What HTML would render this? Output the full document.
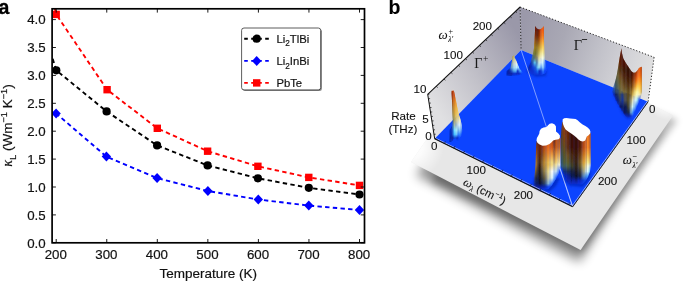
<!DOCTYPE html>
<html lang="en">
<head>
<meta charset="utf-8">
<title>Lattice thermal conductivity and scattering rates</title>
<style>
html,body{margin:0;padding:0;background:#fff;}
body{width:685px;height:281px;overflow:hidden;}
svg{display:block;}
svg text{stroke:#111;stroke-width:0.18px;}
#panel-b text{stroke-width:0.1px;}
svg text.lbl{stroke:#000;stroke-width:0.3px;}
</style>
</head>
<body>
<svg width="685" height="281" viewBox="0 0 685 281">
<defs>
<clipPath id="axclip"><rect x="52.1" y="8.8" width="312.4" height="234"/></clipPath>
<filter id="shadowblur" x="-20%" y="-20%" width="140%" height="140%"><feGaussianBlur stdDeviation="5.5"/></filter>
<filter id="shadowblur2" x="-20%" y="-20%" width="140%" height="140%"><feGaussianBlur stdDeviation="3.6"/></filter>
<filter id="b1" x="-30%" y="-30%" width="160%" height="160%"><feGaussianBlur stdDeviation="0.6"/></filter>
<filter id="b2" x="-30%" y="-30%" width="160%" height="160%"><feGaussianBlur stdDeviation="1.2"/></filter>
<filter id="b3" x="-50%" y="-50%" width="200%" height="200%"><feGaussianBlur stdDeviation="2.0"/></filter>
<linearGradient id="gwl" gradientUnits="userSpaceOnUse" x1="430" y1="100" x2="522" y2="40"><stop offset="0" stop-color="#e0e0e2"/><stop offset="0.45" stop-color="#c2c1c9"/><stop offset="1" stop-color="#9a98a9"/></linearGradient>
<linearGradient id="gwr" gradientUnits="userSpaceOnUse" x1="521" y1="30" x2="652" y2="80"><stop offset="0" stop-color="#9b99aa"/><stop offset="0.3" stop-color="#a9a8b4"/><stop offset="0.56" stop-color="#c0c0c8"/><stop offset="0.8" stop-color="#d4d4d8"/><stop offset="1" stop-color="#e2e2e2"/></linearGradient>
<radialGradient id="gfl" gradientUnits="userSpaceOnUse" cx="410" cy="146" r="34"><stop offset="0" stop-color="#fff" stop-opacity="1"/><stop offset="0.4" stop-color="#fff" stop-opacity="0.85"/><stop offset="1" stop-color="#fff" stop-opacity="0"/></radialGradient>
<radialGradient id="gfr" gradientUnits="userSpaceOnUse" cx="668" cy="96" r="24"><stop offset="0" stop-color="#fff" stop-opacity="1"/><stop offset="0.5" stop-color="#fff" stop-opacity="0.85"/><stop offset="1" stop-color="#fff" stop-opacity="0"/></radialGradient>
<clipPath id="cp_sp"><path d="M451.60,91.00 L452.75,89.80 L453.90,91.00 L454.40,93.00 L456.00,101.00 L457.40,108.00 L458.70,114.00 L460.70,120.00 L461.60,125.00 L462.20,130.00 L462.00,134.40 L460.50,137.00 L458.60,140.50 L456.80,140.50 L455.50,138.50 L453.60,139.00 L452.40,141.00 L450.60,141.00 L450.40,136.00 L451.00,131.00 L452.60,125.00 L452.80,120.00 L452.50,114.00 L452.30,108.00 L452.00,101.00 L451.50,93.00 Z"/></clipPath>
<linearGradient id="gsp0" gradientUnits="userSpaceOnUse" x1="0" y1="89.0" x2="0" y2="141.0"><stop offset="0.000" stop-color="#902301"/><stop offset="0.096" stop-color="#8a2000"/><stop offset="0.231" stop-color="#904010"/><stop offset="0.365" stop-color="#906020"/><stop offset="0.481" stop-color="#907830"/><stop offset="0.596" stop-color="#787848"/><stop offset="0.692" stop-color="#3464ae"/><stop offset="0.788" stop-color="#0a2cb2"/><stop offset="0.873" stop-color="#0828b0"/><stop offset="0.942" stop-color="#0820a0"/><stop offset="1.000" stop-color="#0a30d0"/></linearGradient>
<linearGradient id="gsp1" gradientUnits="userSpaceOnUse" x1="0" y1="89.0" x2="0" y2="141.0"><stop offset="0.000" stop-color="#9c2903"/><stop offset="0.096" stop-color="#8a2000"/><stop offset="0.231" stop-color="#904010"/><stop offset="0.365" stop-color="#906020"/><stop offset="0.481" stop-color="#907830"/><stop offset="0.596" stop-color="#787848"/><stop offset="0.692" stop-color="#3b6bab"/><stop offset="0.788" stop-color="#0f35b7"/><stop offset="0.873" stop-color="#0828b0"/><stop offset="0.942" stop-color="#0820a0"/><stop offset="1.000" stop-color="#0a30d0"/></linearGradient>
<linearGradient id="gsp2" gradientUnits="userSpaceOnUse" x1="0" y1="89.0" x2="0" y2="141.0"><stop offset="0.000" stop-color="#a83005"/><stop offset="0.096" stop-color="#8a2000"/><stop offset="0.231" stop-color="#904010"/><stop offset="0.365" stop-color="#906020"/><stop offset="0.481" stop-color="#907830"/><stop offset="0.596" stop-color="#787848"/><stop offset="0.692" stop-color="#4272a7"/><stop offset="0.788" stop-color="#133ebb"/><stop offset="0.873" stop-color="#0828b0"/><stop offset="0.942" stop-color="#0820a0"/><stop offset="1.000" stop-color="#0a30d0"/></linearGradient>
<linearGradient id="gsp3" gradientUnits="userSpaceOnUse" x1="0" y1="89.0" x2="0" y2="141.0"><stop offset="0.000" stop-color="#b43607"/><stop offset="0.096" stop-color="#9f2b04"/><stop offset="0.231" stop-color="#9a4610"/><stop offset="0.365" stop-color="#906020"/><stop offset="0.481" stop-color="#907830"/><stop offset="0.596" stop-color="#787848"/><stop offset="0.692" stop-color="#4878a4"/><stop offset="0.788" stop-color="#1847c0"/><stop offset="0.873" stop-color="#1244bf"/><stop offset="0.942" stop-color="#0820a0"/><stop offset="1.000" stop-color="#0a30d0"/></linearGradient>
<linearGradient id="gsp4" gradientUnits="userSpaceOnUse" x1="0" y1="89.0" x2="0" y2="141.0"><stop offset="0.000" stop-color="#b93908"/><stop offset="0.096" stop-color="#ba3a09"/><stop offset="0.231" stop-color="#b65810"/><stop offset="0.365" stop-color="#a77022"/><stop offset="0.481" stop-color="#9d8133"/><stop offset="0.596" stop-color="#7d7c4a"/><stop offset="0.692" stop-color="#4f7fa0"/><stop offset="0.788" stop-color="#367cd6"/><stop offset="0.873" stop-color="#2371d6"/><stop offset="0.942" stop-color="#0924a5"/><stop offset="1.000" stop-color="#0a31d2"/></linearGradient>
<linearGradient id="gsp5" gradientUnits="userSpaceOnUse" x1="0" y1="89.0" x2="0" y2="141.0"><stop offset="0.000" stop-color="#ba3a09"/><stop offset="0.096" stop-color="#c3430e"/><stop offset="0.231" stop-color="#d16910"/><stop offset="0.365" stop-color="#bf8125"/><stop offset="0.481" stop-color="#b29037"/><stop offset="0.596" stop-color="#938f56"/><stop offset="0.692" stop-color="#84a3a0"/><stop offset="0.788" stop-color="#57b4ed"/><stop offset="0.873" stop-color="#339ded"/><stop offset="0.942" stop-color="#0b34bb"/><stop offset="1.000" stop-color="#0b36dd"/></linearGradient>
<linearGradient id="gsp6" gradientUnits="userSpaceOnUse" x1="0" y1="89.0" x2="0" y2="141.0"><stop offset="0.000" stop-color="#bb3b09"/><stop offset="0.096" stop-color="#c84810"/><stop offset="0.231" stop-color="#db7617"/><stop offset="0.365" stop-color="#d79227"/><stop offset="0.481" stop-color="#c79e3b"/><stop offset="0.596" stop-color="#aaa161"/><stop offset="0.692" stop-color="#afbfa2"/><stop offset="0.788" stop-color="#76e2ff"/><stop offset="0.873" stop-color="#45c2ff"/><stop offset="0.942" stop-color="#0e45d2"/><stop offset="1.000" stop-color="#0b3ae8"/></linearGradient>
<linearGradient id="gsp7" gradientUnits="userSpaceOnUse" x1="0" y1="89.0" x2="0" y2="141.0"><stop offset="0.000" stop-color="#bc3c0a"/><stop offset="0.096" stop-color="#c84810"/><stop offset="0.231" stop-color="#e4831e"/><stop offset="0.365" stop-color="#e39f2d"/><stop offset="0.481" stop-color="#dcad3f"/><stop offset="0.596" stop-color="#c0b46c"/><stop offset="0.692" stop-color="#a9bdae"/><stop offset="0.788" stop-color="#92edff"/><stop offset="0.873" stop-color="#5bceff"/><stop offset="0.942" stop-color="#0f4cdd"/><stop offset="1.000" stop-color="#0b3ff3"/></linearGradient>
<linearGradient id="gsp8" gradientUnits="userSpaceOnUse" x1="0" y1="89.0" x2="0" y2="141.0"><stop offset="0.000" stop-color="#bd3d0a"/><stop offset="0.096" stop-color="#c84810"/><stop offset="0.231" stop-color="#e88820"/><stop offset="0.365" stop-color="#e8a935"/><stop offset="0.481" stop-color="#e4b749"/><stop offset="0.596" stop-color="#d6c777"/><stop offset="0.692" stop-color="#a4bab9"/><stop offset="0.788" stop-color="#aef8ff"/><stop offset="0.873" stop-color="#72d9ff"/><stop offset="0.942" stop-color="#0d40d3"/><stop offset="1.000" stop-color="#0c44fe"/></linearGradient>
<linearGradient id="gsp9" gradientUnits="userSpaceOnUse" x1="0" y1="89.0" x2="0" y2="141.0"><stop offset="0.000" stop-color="#be3e0b"/><stop offset="0.096" stop-color="#c84810"/><stop offset="0.231" stop-color="#e88820"/><stop offset="0.365" stop-color="#edb33c"/><stop offset="0.481" stop-color="#e8bf54"/><stop offset="0.596" stop-color="#ded086"/><stop offset="0.692" stop-color="#a8bfc6"/><stop offset="0.788" stop-color="#b8f7fb"/><stop offset="0.873" stop-color="#76d4ff"/><stop offset="0.942" stop-color="#0b35ca"/><stop offset="1.000" stop-color="#0c44ff"/></linearGradient>
<linearGradient id="gsp10" gradientUnits="userSpaceOnUse" x1="0" y1="89.0" x2="0" y2="141.0"><stop offset="0.000" stop-color="#bf3f0b"/><stop offset="0.096" stop-color="#c84810"/><stop offset="0.231" stop-color="#e88820"/><stop offset="0.365" stop-color="#f0b840"/><stop offset="0.481" stop-color="#edc75f"/><stop offset="0.596" stop-color="#e5d895"/><stop offset="0.692" stop-color="#bdd2d7"/><stop offset="0.788" stop-color="#a2e1f0"/><stop offset="0.873" stop-color="#5ab2ff"/><stop offset="0.942" stop-color="#0829c1"/><stop offset="1.000" stop-color="#0c44ff"/></linearGradient>
<linearGradient id="gsp11" gradientUnits="userSpaceOnUse" x1="0" y1="89.0" x2="0" y2="141.0"><stop offset="0.000" stop-color="#c0400c"/><stop offset="0.096" stop-color="#c84810"/><stop offset="0.231" stop-color="#e88820"/><stop offset="0.365" stop-color="#f0b840"/><stop offset="0.481" stop-color="#f2d06a"/><stop offset="0.596" stop-color="#ebe0a3"/><stop offset="0.692" stop-color="#d3e5e8"/><stop offset="0.788" stop-color="#8bcbe5"/><stop offset="0.873" stop-color="#3e91ff"/><stop offset="0.942" stop-color="#0931d3"/><stop offset="1.000" stop-color="#0c44ff"/></linearGradient>
<linearGradient id="gsp12" gradientUnits="userSpaceOnUse" x1="0" y1="89.0" x2="0" y2="141.0"><stop offset="0.000" stop-color="#c1410c"/><stop offset="0.096" stop-color="#c84810"/><stop offset="0.231" stop-color="#e88820"/><stop offset="0.365" stop-color="#f0b840"/><stop offset="0.481" stop-color="#f4d470"/><stop offset="0.596" stop-color="#f2e8b2"/><stop offset="0.692" stop-color="#e8f8f9"/><stop offset="0.788" stop-color="#86c4e5"/><stop offset="0.873" stop-color="#3383ff"/><stop offset="0.942" stop-color="#0b3ae8"/><stop offset="1.000" stop-color="#0c44ff"/></linearGradient>
<linearGradient id="gsp13" gradientUnits="userSpaceOnUse" x1="0" y1="89.0" x2="0" y2="141.0"><stop offset="0.000" stop-color="#c2420d"/><stop offset="0.096" stop-color="#c84810"/><stop offset="0.231" stop-color="#e88820"/><stop offset="0.365" stop-color="#f0b840"/><stop offset="0.481" stop-color="#f4d470"/><stop offset="0.596" stop-color="#f8f0c0"/><stop offset="0.692" stop-color="#e7f9fc"/><stop offset="0.788" stop-color="#91cdf0"/><stop offset="0.873" stop-color="#3888ff"/><stop offset="0.942" stop-color="#0c43fd"/><stop offset="1.000" stop-color="#0c44ff"/></linearGradient>
<linearGradient id="gsp14" gradientUnits="userSpaceOnUse" x1="0" y1="89.0" x2="0" y2="141.0"><stop offset="0.000" stop-color="#c3430d"/><stop offset="0.096" stop-color="#c84810"/><stop offset="0.231" stop-color="#e88820"/><stop offset="0.365" stop-color="#f0b840"/><stop offset="0.481" stop-color="#f4d470"/><stop offset="0.596" stop-color="#f8f0c0"/><stop offset="0.692" stop-color="#d9f0f8"/><stop offset="0.788" stop-color="#9cd5fb"/><stop offset="0.873" stop-color="#3e8eff"/><stop offset="0.942" stop-color="#0c44ff"/><stop offset="1.000" stop-color="#0c44ff"/></linearGradient>
<linearGradient id="gsp15" gradientUnits="userSpaceOnUse" x1="0" y1="89.0" x2="0" y2="141.0"><stop offset="0.000" stop-color="#c4440e"/><stop offset="0.096" stop-color="#c84810"/><stop offset="0.231" stop-color="#e88820"/><stop offset="0.365" stop-color="#f0b840"/><stop offset="0.481" stop-color="#f4d470"/><stop offset="0.596" stop-color="#f8f0c0"/><stop offset="0.692" stop-color="#cbe7f3"/><stop offset="0.788" stop-color="#85bffb"/><stop offset="0.873" stop-color="#317bff"/><stop offset="0.942" stop-color="#0c44ff"/><stop offset="1.000" stop-color="#0c44ff"/></linearGradient>
<linearGradient id="gsp16" gradientUnits="userSpaceOnUse" x1="0" y1="89.0" x2="0" y2="141.0"><stop offset="0.000" stop-color="#c5450e"/><stop offset="0.096" stop-color="#c84810"/><stop offset="0.231" stop-color="#e88820"/><stop offset="0.365" stop-color="#f0b840"/><stop offset="0.481" stop-color="#f4d470"/><stop offset="0.596" stop-color="#f8f0c0"/><stop offset="0.692" stop-color="#bedff0"/><stop offset="0.788" stop-color="#5b99f4"/><stop offset="0.873" stop-color="#1b59ff"/><stop offset="0.942" stop-color="#0c44ff"/><stop offset="1.000" stop-color="#0c44ff"/></linearGradient>
<linearGradient id="gsp17" gradientUnits="userSpaceOnUse" x1="0" y1="89.0" x2="0" y2="141.0"><stop offset="0.000" stop-color="#c6460f"/><stop offset="0.096" stop-color="#c84810"/><stop offset="0.231" stop-color="#e88820"/><stop offset="0.365" stop-color="#f0b840"/><stop offset="0.481" stop-color="#f4d470"/><stop offset="0.596" stop-color="#f8f0c0"/><stop offset="0.692" stop-color="#b6d8f0"/><stop offset="0.788" stop-color="#3a79f2"/><stop offset="0.873" stop-color="#0c44ff"/><stop offset="0.942" stop-color="#0c44ff"/><stop offset="1.000" stop-color="#0c44ff"/></linearGradient>
<linearGradient id="gsp18" gradientUnits="userSpaceOnUse" x1="0" y1="89.0" x2="0" y2="141.0"><stop offset="0.000" stop-color="#c6460f"/><stop offset="0.096" stop-color="#c84810"/><stop offset="0.231" stop-color="#e88820"/><stop offset="0.365" stop-color="#f0b840"/><stop offset="0.481" stop-color="#f4d470"/><stop offset="0.596" stop-color="#f8f0c0"/><stop offset="0.692" stop-color="#b1d5f0"/><stop offset="0.788" stop-color="#306ef5"/><stop offset="0.873" stop-color="#0c44ff"/><stop offset="0.942" stop-color="#0c44ff"/><stop offset="1.000" stop-color="#0c44ff"/></linearGradient>
<clipPath id="cp_sm"><path d="M512.60,56.40 L513.30,55.30 L514.10,56.40 L514.70,57.60 L516.50,61.30 L518.40,65.90 L519.70,69.10 L521.20,70.40 L522.60,72.80 L521.60,74.60 L518.00,75.60 L512.00,75.60 L508.00,75.00 L507.40,72.00 L508.60,70.40 L509.60,69.60 L511.00,65.90 L511.90,61.30 L512.30,57.60 Z"/></clipPath>
<linearGradient id="gsm0" gradientUnits="userSpaceOnUse" x1="0" y1="54.5" x2="0" y2="76.0"><stop offset="0.000" stop-color="#b0a040"/><stop offset="0.098" stop-color="#b0a040"/><stop offset="0.270" stop-color="#a0a060"/><stop offset="0.442" stop-color="#7898a0"/><stop offset="0.614" stop-color="#0c2eb2"/><stop offset="0.767" stop-color="#0820a7"/><stop offset="0.893" stop-color="#0820a7"/><stop offset="1.000" stop-color="#0a30d0"/></linearGradient>
<linearGradient id="gsm1" gradientUnits="userSpaceOnUse" x1="0" y1="54.5" x2="0" y2="76.0"><stop offset="0.000" stop-color="#b0a040"/><stop offset="0.098" stop-color="#b0a040"/><stop offset="0.270" stop-color="#a0a060"/><stop offset="0.442" stop-color="#7898a0"/><stop offset="0.614" stop-color="#153ab5"/><stop offset="0.767" stop-color="#0820a4"/><stop offset="0.893" stop-color="#0820a6"/><stop offset="1.000" stop-color="#0a30d0"/></linearGradient>
<linearGradient id="gsm2" gradientUnits="userSpaceOnUse" x1="0" y1="54.5" x2="0" y2="76.0"><stop offset="0.000" stop-color="#b0a040"/><stop offset="0.098" stop-color="#b0a040"/><stop offset="0.270" stop-color="#a0a060"/><stop offset="0.442" stop-color="#7898a0"/><stop offset="0.614" stop-color="#1e47b9"/><stop offset="0.767" stop-color="#0820a1"/><stop offset="0.893" stop-color="#0820a5"/><stop offset="1.000" stop-color="#0a30d0"/></linearGradient>
<linearGradient id="gsm3" gradientUnits="userSpaceOnUse" x1="0" y1="54.5" x2="0" y2="76.0"><stop offset="0.000" stop-color="#b0a040"/><stop offset="0.098" stop-color="#b0a040"/><stop offset="0.270" stop-color="#a0a060"/><stop offset="0.442" stop-color="#7898a0"/><stop offset="0.614" stop-color="#2753bc"/><stop offset="0.767" stop-color="#0a26a5"/><stop offset="0.893" stop-color="#0820a4"/><stop offset="1.000" stop-color="#0a30d0"/></linearGradient>
<linearGradient id="gsm4" gradientUnits="userSpaceOnUse" x1="0" y1="54.5" x2="0" y2="76.0"><stop offset="0.000" stop-color="#b0a040"/><stop offset="0.098" stop-color="#b0a040"/><stop offset="0.270" stop-color="#a0a060"/><stop offset="0.442" stop-color="#7898a0"/><stop offset="0.614" stop-color="#2f5fc0"/><stop offset="0.767" stop-color="#0f32af"/><stop offset="0.893" stop-color="#0820a3"/><stop offset="1.000" stop-color="#0a30d0"/></linearGradient>
<linearGradient id="gsm5" gradientUnits="userSpaceOnUse" x1="0" y1="54.5" x2="0" y2="76.0"><stop offset="0.000" stop-color="#b0a040"/><stop offset="0.098" stop-color="#b0a040"/><stop offset="0.270" stop-color="#a0a060"/><stop offset="0.442" stop-color="#7898a0"/><stop offset="0.614" stop-color="#4878c0"/><stop offset="0.767" stop-color="#143eb8"/><stop offset="0.893" stop-color="#0820a2"/><stop offset="1.000" stop-color="#0a30d0"/></linearGradient>
<linearGradient id="gsm6" gradientUnits="userSpaceOnUse" x1="0" y1="54.5" x2="0" y2="76.0"><stop offset="0.000" stop-color="#b0a040"/><stop offset="0.098" stop-color="#b0a040"/><stop offset="0.270" stop-color="#a0a060"/><stop offset="0.442" stop-color="#7e9ca3"/><stop offset="0.614" stop-color="#6393c0"/><stop offset="0.767" stop-color="#1c4ec2"/><stop offset="0.893" stop-color="#0820a1"/><stop offset="1.000" stop-color="#0a30d0"/></linearGradient>
<linearGradient id="gsm7" gradientUnits="userSpaceOnUse" x1="0" y1="54.5" x2="0" y2="76.0"><stop offset="0.000" stop-color="#b0a040"/><stop offset="0.098" stop-color="#b0a040"/><stop offset="0.270" stop-color="#a8a767"/><stop offset="0.442" stop-color="#98b1ae"/><stop offset="0.614" stop-color="#7aaac7"/><stop offset="0.767" stop-color="#2d69cc"/><stop offset="0.893" stop-color="#0822a5"/><stop offset="1.000" stop-color="#0a30d0"/></linearGradient>
<linearGradient id="gsm8" gradientUnits="userSpaceOnUse" x1="0" y1="54.5" x2="0" y2="76.0"><stop offset="0.000" stop-color="#b3a343"/><stop offset="0.098" stop-color="#b3a343"/><stop offset="0.270" stop-color="#bfbb7b"/><stop offset="0.442" stop-color="#b3c6ba"/><stop offset="0.614" stop-color="#8dbdd6"/><stop offset="0.767" stop-color="#3e83d6"/><stop offset="0.893" stop-color="#0927b5"/><stop offset="1.000" stop-color="#0a30d0"/></linearGradient>
<linearGradient id="gsm9" gradientUnits="userSpaceOnUse" x1="0" y1="54.5" x2="0" y2="76.0"><stop offset="0.000" stop-color="#c3b353"/><stop offset="0.098" stop-color="#c3b353"/><stop offset="0.270" stop-color="#d6cf8f"/><stop offset="0.442" stop-color="#c6d5c5"/><stop offset="0.614" stop-color="#a1d1e5"/><stop offset="0.767" stop-color="#4f9edf"/><stop offset="0.893" stop-color="#092cc4"/><stop offset="1.000" stop-color="#0a33d6"/></linearGradient>
<linearGradient id="gsm10" gradientUnits="userSpaceOnUse" x1="0" y1="54.5" x2="0" y2="76.0"><stop offset="0.000" stop-color="#d0c060"/><stop offset="0.098" stop-color="#d0c060"/><stop offset="0.270" stop-color="#e0d89b"/><stop offset="0.442" stop-color="#d2dfcf"/><stop offset="0.614" stop-color="#b1e1f1"/><stop offset="0.767" stop-color="#55abe9"/><stop offset="0.893" stop-color="#0a2fcf"/><stop offset="1.000" stop-color="#0b35dd"/></linearGradient>
<linearGradient id="gsm11" gradientUnits="userSpaceOnUse" x1="0" y1="54.5" x2="0" y2="76.0"><stop offset="0.000" stop-color="#d0c060"/><stop offset="0.098" stop-color="#d0c060"/><stop offset="0.270" stop-color="#e9e1a7"/><stop offset="0.442" stop-color="#dee8d8"/><stop offset="0.614" stop-color="#b6e6f6"/><stop offset="0.767" stop-color="#59b7f2"/><stop offset="0.893" stop-color="#092dca"/><stop offset="1.000" stop-color="#0b38e3"/></linearGradient>
<linearGradient id="gsm12" gradientUnits="userSpaceOnUse" x1="0" y1="54.5" x2="0" y2="76.0"><stop offset="0.000" stop-color="#d0c060"/><stop offset="0.098" stop-color="#d0c060"/><stop offset="0.270" stop-color="#f0e8b0"/><stop offset="0.442" stop-color="#e9f1e1"/><stop offset="0.614" stop-color="#bbebfa"/><stop offset="0.767" stop-color="#5ec4fc"/><stop offset="0.893" stop-color="#092bc5"/><stop offset="1.000" stop-color="#0b3bea"/></linearGradient>
<linearGradient id="gsm13" gradientUnits="userSpaceOnUse" x1="0" y1="54.5" x2="0" y2="76.0"><stop offset="0.000" stop-color="#d0c060"/><stop offset="0.098" stop-color="#d0c060"/><stop offset="0.270" stop-color="#f0e8b0"/><stop offset="0.442" stop-color="#ecf4e8"/><stop offset="0.614" stop-color="#c0f0ff"/><stop offset="0.767" stop-color="#4ba2f0"/><stop offset="0.893" stop-color="#0828c0"/><stop offset="1.000" stop-color="#0b3ef0"/></linearGradient>
<linearGradient id="gsm14" gradientUnits="userSpaceOnUse" x1="0" y1="54.5" x2="0" y2="76.0"><stop offset="0.000" stop-color="#d0c060"/><stop offset="0.098" stop-color="#d0c060"/><stop offset="0.270" stop-color="#f0e8b0"/><stop offset="0.442" stop-color="#eff7ee"/><stop offset="0.614" stop-color="#b7ebff"/><stop offset="0.767" stop-color="#2b67d9"/><stop offset="0.893" stop-color="#0828c0"/><stop offset="1.000" stop-color="#0c41f7"/></linearGradient>
<linearGradient id="gsm15" gradientUnits="userSpaceOnUse" x1="0" y1="54.5" x2="0" y2="76.0"><stop offset="0.000" stop-color="#d0c060"/><stop offset="0.098" stop-color="#d0c060"/><stop offset="0.270" stop-color="#f0e8b0"/><stop offset="0.442" stop-color="#f0f8f0"/><stop offset="0.614" stop-color="#ade7ff"/><stop offset="0.767" stop-color="#0a2cc2"/><stop offset="0.893" stop-color="#0828c0"/><stop offset="1.000" stop-color="#0c43fe"/></linearGradient>
<linearGradient id="gsm16" gradientUnits="userSpaceOnUse" x1="0" y1="54.5" x2="0" y2="76.0"><stop offset="0.000" stop-color="#d0c060"/><stop offset="0.098" stop-color="#d0c060"/><stop offset="0.270" stop-color="#f0e8b0"/><stop offset="0.442" stop-color="#f0f8f0"/><stop offset="0.614" stop-color="#a3e2ff"/><stop offset="0.767" stop-color="#1c4ed2"/><stop offset="0.893" stop-color="#0828c0"/><stop offset="1.000" stop-color="#0c44ff"/></linearGradient>
<linearGradient id="gsm17" gradientUnits="userSpaceOnUse" x1="0" y1="54.5" x2="0" y2="76.0"><stop offset="0.000" stop-color="#d0c060"/><stop offset="0.098" stop-color="#d0c060"/><stop offset="0.270" stop-color="#f0e8b0"/><stop offset="0.442" stop-color="#f0f8f0"/><stop offset="0.614" stop-color="#93d3ff"/><stop offset="0.767" stop-color="#3278e5"/><stop offset="0.893" stop-color="#0828c0"/><stop offset="1.000" stop-color="#0c44ff"/></linearGradient>
<linearGradient id="gsm18" gradientUnits="userSpaceOnUse" x1="0" y1="54.5" x2="0" y2="76.0"><stop offset="0.000" stop-color="#d0c060"/><stop offset="0.098" stop-color="#d0c060"/><stop offset="0.270" stop-color="#f0e8b0"/><stop offset="0.442" stop-color="#f0f8f0"/><stop offset="0.614" stop-color="#7fbfff"/><stop offset="0.767" stop-color="#48a1f8"/><stop offset="0.893" stop-color="#092ece"/><stop offset="1.000" stop-color="#0c44ff"/></linearGradient>
<linearGradient id="gsm19" gradientUnits="userSpaceOnUse" x1="0" y1="54.5" x2="0" y2="76.0"><stop offset="0.000" stop-color="#d0c060"/><stop offset="0.098" stop-color="#d0c060"/><stop offset="0.270" stop-color="#f0e8b0"/><stop offset="0.442" stop-color="#f0f8f0"/><stop offset="0.614" stop-color="#6aaaff"/><stop offset="0.767" stop-color="#44a0ff"/><stop offset="0.893" stop-color="#0a38e4"/><stop offset="1.000" stop-color="#0c44ff"/></linearGradient>
<linearGradient id="gsm20" gradientUnits="userSpaceOnUse" x1="0" y1="54.5" x2="0" y2="76.0"><stop offset="0.000" stop-color="#d0c060"/><stop offset="0.098" stop-color="#d0c060"/><stop offset="0.270" stop-color="#f0e8b0"/><stop offset="0.442" stop-color="#f0f8f0"/><stop offset="0.614" stop-color="#5695ff"/><stop offset="0.767" stop-color="#3187ff"/><stop offset="0.893" stop-color="#0c42fa"/><stop offset="1.000" stop-color="#0c44ff"/></linearGradient>
<linearGradient id="gsm21" gradientUnits="userSpaceOnUse" x1="0" y1="54.5" x2="0" y2="76.0"><stop offset="0.000" stop-color="#d0c060"/><stop offset="0.098" stop-color="#d0c060"/><stop offset="0.270" stop-color="#f0e8b0"/><stop offset="0.442" stop-color="#f0f8f0"/><stop offset="0.614" stop-color="#4380ff"/><stop offset="0.767" stop-color="#1f6fff"/><stop offset="0.893" stop-color="#0c44ff"/><stop offset="1.000" stop-color="#0c44ff"/></linearGradient>
<linearGradient id="gsm22" gradientUnits="userSpaceOnUse" x1="0" y1="54.5" x2="0" y2="76.0"><stop offset="0.000" stop-color="#d0c060"/><stop offset="0.098" stop-color="#d0c060"/><stop offset="0.270" stop-color="#f0e8b0"/><stop offset="0.442" stop-color="#f0f8f0"/><stop offset="0.614" stop-color="#2f6aff"/><stop offset="0.767" stop-color="#185fff"/><stop offset="0.893" stop-color="#0c44ff"/><stop offset="1.000" stop-color="#0c44ff"/></linearGradient>
<linearGradient id="gsm23" gradientUnits="userSpaceOnUse" x1="0" y1="54.5" x2="0" y2="76.0"><stop offset="0.000" stop-color="#d0c060"/><stop offset="0.098" stop-color="#d0c060"/><stop offset="0.270" stop-color="#f0e8b0"/><stop offset="0.442" stop-color="#f0f8f0"/><stop offset="0.614" stop-color="#225dff"/><stop offset="0.767" stop-color="#1456ff"/><stop offset="0.893" stop-color="#0c44ff"/><stop offset="1.000" stop-color="#0c44ff"/></linearGradient>
<clipPath id="cp_bp"><path d="M535.20,26.00 L536.60,28.20 L538.20,29.20 L539.60,29.40 L541.20,28.80 L542.80,27.40 L543.80,26.00 L544.00,40.00 L544.20,48.00 L544.50,53.00 L545.00,58.00 L545.40,63.00 L546.20,67.50 L546.60,71.00 L545.00,73.50 L541.00,75.00 L535.00,75.00 L530.50,73.50 L528.30,70.50 L528.50,67.00 L530.50,62.70 L531.80,58.00 L533.00,53.40 L534.00,48.00 L534.50,40.50 L535.00,31.30 Z"/></clipPath>
<linearGradient id="gbp0" gradientUnits="userSpaceOnUse" x1="0" y1="25.0" x2="0" y2="75.0"><stop offset="0.000" stop-color="#671400"/><stop offset="0.106" stop-color="#6e1800"/><stop offset="0.218" stop-color="#882f08"/><stop offset="0.328" stop-color="#9e5f10"/><stop offset="0.450" stop-color="#a68620"/><stop offset="0.568" stop-color="#7e863f"/><stop offset="0.660" stop-color="#3f6e9e"/><stop offset="0.754" stop-color="#0c44ff"/><stop offset="0.846" stop-color="#0b3dec"/><stop offset="0.920" stop-color="#0b40f6"/><stop offset="1.000" stop-color="#0c43fd"/></linearGradient>
<linearGradient id="gbp1" gradientUnits="userSpaceOnUse" x1="0" y1="25.0" x2="0" y2="75.0"><stop offset="0.000" stop-color="#6a1400"/><stop offset="0.106" stop-color="#721900"/><stop offset="0.218" stop-color="#8d3108"/><stop offset="0.328" stop-color="#a36210"/><stop offset="0.450" stop-color="#ac8b21"/><stop offset="0.568" stop-color="#838b41"/><stop offset="0.660" stop-color="#4172a3"/><stop offset="0.754" stop-color="#0c42fb"/><stop offset="0.846" stop-color="#0a2ec6"/><stop offset="0.920" stop-color="#0a38e3"/><stop offset="1.000" stop-color="#0c40f8"/></linearGradient>
<linearGradient id="gbp2" gradientUnits="userSpaceOnUse" x1="0" y1="25.0" x2="0" y2="75.0"><stop offset="0.000" stop-color="#6b1500"/><stop offset="0.106" stop-color="#731900"/><stop offset="0.218" stop-color="#8e3108"/><stop offset="0.328" stop-color="#a46310"/><stop offset="0.450" stop-color="#ad8c21"/><stop offset="0.568" stop-color="#838c42"/><stop offset="0.660" stop-color="#4273a4"/><stop offset="0.754" stop-color="#0b3ae9"/><stop offset="0.846" stop-color="#0821a4"/><stop offset="0.920" stop-color="#0830d0"/><stop offset="1.000" stop-color="#0b3ef3"/></linearGradient>
<linearGradient id="gbp3" gradientUnits="userSpaceOnUse" x1="0" y1="25.0" x2="0" y2="75.0"><stop offset="0.000" stop-color="#671400"/><stop offset="0.106" stop-color="#6f1800"/><stop offset="0.218" stop-color="#882f08"/><stop offset="0.328" stop-color="#9e5f10"/><stop offset="0.450" stop-color="#a68620"/><stop offset="0.568" stop-color="#7f863f"/><stop offset="0.660" stop-color="#3f6f9e"/><stop offset="0.754" stop-color="#0932d7"/><stop offset="0.846" stop-color="#0822a9"/><stop offset="0.920" stop-color="#0830d0"/><stop offset="1.000" stop-color="#0b3bee"/></linearGradient>
<linearGradient id="gbp4" gradientUnits="userSpaceOnUse" x1="0" y1="25.0" x2="0" y2="75.0"><stop offset="0.000" stop-color="#641300"/><stop offset="0.106" stop-color="#6c1700"/><stop offset="0.218" stop-color="#852e08"/><stop offset="0.328" stop-color="#9a5c0f"/><stop offset="0.450" stop-color="#a1831f"/><stop offset="0.568" stop-color="#7b833d"/><stop offset="0.660" stop-color="#426e95"/><stop offset="0.754" stop-color="#082ac5"/><stop offset="0.846" stop-color="#0826b6"/><stop offset="0.920" stop-color="#0830d0"/><stop offset="1.000" stop-color="#0b38e9"/></linearGradient>
<linearGradient id="gbp5" gradientUnits="userSpaceOnUse" x1="0" y1="25.0" x2="0" y2="75.0"><stop offset="0.000" stop-color="#621300"/><stop offset="0.106" stop-color="#6a1700"/><stop offset="0.218" stop-color="#822d08"/><stop offset="0.328" stop-color="#975a0f"/><stop offset="0.450" stop-color="#9e801e"/><stop offset="0.568" stop-color="#79803c"/><stop offset="0.660" stop-color="#466e8d"/><stop offset="0.754" stop-color="#153ab6"/><stop offset="0.846" stop-color="#0929c1"/><stop offset="0.920" stop-color="#0830d0"/><stop offset="1.000" stop-color="#0a36e4"/></linearGradient>
<linearGradient id="gbp6" gradientUnits="userSpaceOnUse" x1="0" y1="25.0" x2="0" y2="75.0"><stop offset="0.000" stop-color="#651300"/><stop offset="0.106" stop-color="#6d1700"/><stop offset="0.218" stop-color="#872f08"/><stop offset="0.328" stop-color="#9c5e10"/><stop offset="0.450" stop-color="#a4851f"/><stop offset="0.568" stop-color="#7d853e"/><stop offset="0.660" stop-color="#4e758c"/><stop offset="0.754" stop-color="#254fa4"/><stop offset="0.846" stop-color="#0e35cd"/><stop offset="0.920" stop-color="#0830d0"/><stop offset="1.000" stop-color="#0a34e0"/></linearGradient>
<linearGradient id="gbp7" gradientUnits="userSpaceOnUse" x1="0" y1="25.0" x2="0" y2="75.0"><stop offset="0.000" stop-color="#621300"/><stop offset="0.106" stop-color="#6a1700"/><stop offset="0.218" stop-color="#822d08"/><stop offset="0.328" stop-color="#975b0f"/><stop offset="0.450" stop-color="#9f801e"/><stop offset="0.568" stop-color="#79803c"/><stop offset="0.660" stop-color="#4e6f7b"/><stop offset="0.754" stop-color="#3369a3"/><stop offset="0.846" stop-color="#1440d8"/><stop offset="0.920" stop-color="#0830d0"/><stop offset="1.000" stop-color="#0a33de"/></linearGradient>
<linearGradient id="gbp8" gradientUnits="userSpaceOnUse" x1="0" y1="25.0" x2="0" y2="75.0"><stop offset="0.000" stop-color="#631300"/><stop offset="0.106" stop-color="#6b1700"/><stop offset="0.218" stop-color="#842e08"/><stop offset="0.328" stop-color="#995c0f"/><stop offset="0.450" stop-color="#a1821f"/><stop offset="0.568" stop-color="#757b37"/><stop offset="0.660" stop-color="#526d6f"/><stop offset="0.754" stop-color="#4796cd"/><stop offset="0.846" stop-color="#194adf"/><stop offset="0.920" stop-color="#0a38d6"/><stop offset="1.000" stop-color="#0a33dc"/></linearGradient>
<linearGradient id="gbp9" gradientUnits="userSpaceOnUse" x1="0" y1="25.0" x2="0" y2="75.0"><stop offset="0.000" stop-color="#651300"/><stop offset="0.106" stop-color="#711800"/><stop offset="0.218" stop-color="#8b3008"/><stop offset="0.328" stop-color="#a16010"/><stop offset="0.450" stop-color="#a3841e"/><stop offset="0.568" stop-color="#757933"/><stop offset="0.660" stop-color="#5b7268"/><stop offset="0.754" stop-color="#58bdee"/><stop offset="0.846" stop-color="#1b52d9"/><stop offset="0.920" stop-color="#0c3fdb"/><stop offset="1.000" stop-color="#0a33db"/></linearGradient>
<linearGradient id="gbp10" gradientUnits="userSpaceOnUse" x1="0" y1="25.0" x2="0" y2="75.0"><stop offset="0.000" stop-color="#601100"/><stop offset="0.106" stop-color="#701800"/><stop offset="0.218" stop-color="#862e07"/><stop offset="0.328" stop-color="#94560e"/><stop offset="0.450" stop-color="#977819"/><stop offset="0.568" stop-color="#6e6f2c"/><stop offset="0.660" stop-color="#6e7962"/><stop offset="0.754" stop-color="#5cbee9"/><stop offset="0.846" stop-color="#1e5bd3"/><stop offset="0.920" stop-color="#0e47e1"/><stop offset="1.000" stop-color="#0a32d9"/></linearGradient>
<linearGradient id="gbp11" gradientUnits="userSpaceOnUse" x1="0" y1="25.0" x2="0" y2="75.0"><stop offset="0.000" stop-color="#601100"/><stop offset="0.106" stop-color="#6b1500"/><stop offset="0.218" stop-color="#7b2604"/><stop offset="0.328" stop-color="#8b4d0b"/><stop offset="0.450" stop-color="#937316"/><stop offset="0.568" stop-color="#78762e"/><stop offset="0.660" stop-color="#878760"/><stop offset="0.754" stop-color="#559bc0"/><stop offset="0.846" stop-color="#3075d8"/><stop offset="0.920" stop-color="#104ee7"/><stop offset="1.000" stop-color="#0a32d7"/></linearGradient>
<linearGradient id="gbp12" gradientUnits="userSpaceOnUse" x1="0" y1="25.0" x2="0" y2="75.0"><stop offset="0.000" stop-color="#540e00"/><stop offset="0.106" stop-color="#591000"/><stop offset="0.218" stop-color="#611a01"/><stop offset="0.328" stop-color="#783f08"/><stop offset="0.450" stop-color="#8e7017"/><stop offset="0.568" stop-color="#857f35"/><stop offset="0.660" stop-color="#91895a"/><stop offset="0.754" stop-color="#58849f"/><stop offset="0.846" stop-color="#57a6e2"/><stop offset="0.920" stop-color="#1766f3"/><stop offset="1.000" stop-color="#0a31d5"/></linearGradient>
<linearGradient id="gbp13" gradientUnits="userSpaceOnUse" x1="0" y1="25.0" x2="0" y2="75.0"><stop offset="0.000" stop-color="#5b1000"/><stop offset="0.106" stop-color="#5f1200"/><stop offset="0.218" stop-color="#681d00"/><stop offset="0.328" stop-color="#83470b"/><stop offset="0.450" stop-color="#9a7a1d"/><stop offset="0.568" stop-color="#9c9240"/><stop offset="0.660" stop-color="#ada571"/><stop offset="0.754" stop-color="#84a9b8"/><stop offset="0.846" stop-color="#7bd5f2"/><stop offset="0.920" stop-color="#1f7bfc"/><stop offset="1.000" stop-color="#0a31d4"/></linearGradient>
<linearGradient id="gbp14" gradientUnits="userSpaceOnUse" x1="0" y1="25.0" x2="0" y2="75.0"><stop offset="0.000" stop-color="#6b1600"/><stop offset="0.106" stop-color="#701800"/><stop offset="0.218" stop-color="#7d2800"/><stop offset="0.328" stop-color="#914f0e"/><stop offset="0.450" stop-color="#a88623"/><stop offset="0.568" stop-color="#b5a64b"/><stop offset="0.660" stop-color="#cbc48a"/><stop offset="0.754" stop-color="#b2d1d3"/><stop offset="0.846" stop-color="#89daf4"/><stop offset="0.920" stop-color="#1556e1"/><stop offset="1.000" stop-color="#0a31d2"/></linearGradient>
<linearGradient id="gbp15" gradientUnits="userSpaceOnUse" x1="0" y1="25.0" x2="0" y2="75.0"><stop offset="0.000" stop-color="#862001"/><stop offset="0.106" stop-color="#8c2301"/><stop offset="0.218" stop-color="#9a3602"/><stop offset="0.328" stop-color="#a85f12"/><stop offset="0.450" stop-color="#bc982b"/><stop offset="0.568" stop-color="#cfbf62"/><stop offset="0.660" stop-color="#e8e1a5"/><stop offset="0.754" stop-color="#cdeaea"/><stop offset="0.846" stop-color="#9be5fc"/><stop offset="0.920" stop-color="#0b31c7"/><stop offset="1.000" stop-color="#0a30d0"/></linearGradient>
<linearGradient id="gbp16" gradientUnits="userSpaceOnUse" x1="0" y1="25.0" x2="0" y2="75.0"><stop offset="0.000" stop-color="#a43004"/><stop offset="0.106" stop-color="#ab3304"/><stop offset="0.218" stop-color="#b24609"/><stop offset="0.328" stop-color="#bd6f18"/><stop offset="0.450" stop-color="#c6a034"/><stop offset="0.568" stop-color="#dbcb74"/><stop offset="0.660" stop-color="#e5e1af"/><stop offset="0.754" stop-color="#d8efef"/><stop offset="0.846" stop-color="#85c7ef"/><stop offset="0.920" stop-color="#0b30cb"/><stop offset="1.000" stop-color="#0a33d6"/></linearGradient>
<linearGradient id="gbp17" gradientUnits="userSpaceOnUse" x1="0" y1="25.0" x2="0" y2="75.0"><stop offset="0.000" stop-color="#d74608"/><stop offset="0.106" stop-color="#df4a08"/><stop offset="0.218" stop-color="#df5f11"/><stop offset="0.328" stop-color="#e78c21"/><stop offset="0.450" stop-color="#e7bb42"/><stop offset="0.568" stop-color="#fff095"/><stop offset="0.660" stop-color="#fdfcce"/><stop offset="0.754" stop-color="#eaffff"/><stop offset="0.846" stop-color="#72b6fb"/><stop offset="0.920" stop-color="#0e3bd9"/><stop offset="1.000" stop-color="#0b36df"/></linearGradient>
<linearGradient id="gbp18" gradientUnits="userSpaceOnUse" x1="0" y1="25.0" x2="0" y2="75.0"><stop offset="0.000" stop-color="#df4e0a"/><stop offset="0.106" stop-color="#e5520a"/><stop offset="0.218" stop-color="#e56914"/><stop offset="0.328" stop-color="#eb9427"/><stop offset="0.450" stop-color="#f0c44b"/><stop offset="0.568" stop-color="#f8ea97"/><stop offset="0.660" stop-color="#f9fad5"/><stop offset="0.754" stop-color="#ddf9ff"/><stop offset="0.846" stop-color="#6fadf6"/><stop offset="0.920" stop-color="#174de7"/><stop offset="1.000" stop-color="#0b3ae7"/></linearGradient>
<linearGradient id="gbp19" gradientUnits="userSpaceOnUse" x1="0" y1="25.0" x2="0" y2="75.0"><stop offset="0.000" stop-color="#f75b0c"/><stop offset="0.106" stop-color="#fc5f0c"/><stop offset="0.218" stop-color="#fc7c18"/><stop offset="0.328" stop-color="#ffa731"/><stop offset="0.450" stop-color="#ffd55a"/><stop offset="0.568" stop-color="#fff6a4"/><stop offset="0.660" stop-color="#ffffe5"/><stop offset="0.754" stop-color="#dfffff"/><stop offset="0.846" stop-color="#91cfff"/><stop offset="0.920" stop-color="#2468f4"/><stop offset="1.000" stop-color="#0b3ef0"/></linearGradient>
<linearGradient id="gbp20" gradientUnits="userSpaceOnUse" x1="0" y1="25.0" x2="0" y2="75.0"><stop offset="0.000" stop-color="#e3540b"/><stop offset="0.106" stop-color="#e05309"/><stop offset="0.218" stop-color="#e57017"/><stop offset="0.328" stop-color="#ec9c2f"/><stop offset="0.450" stop-color="#f2cb5d"/><stop offset="0.568" stop-color="#e7df9a"/><stop offset="0.660" stop-color="#ebf2d8"/><stop offset="0.754" stop-color="#b2d6f4"/><stop offset="0.846" stop-color="#96cdf8"/><stop offset="0.920" stop-color="#2e7cff"/><stop offset="1.000" stop-color="#0c41f9"/></linearGradient>
<linearGradient id="gbp21" gradientUnits="userSpaceOnUse" x1="0" y1="25.0" x2="0" y2="75.0"><stop offset="0.000" stop-color="#f2570b"/><stop offset="0.106" stop-color="#ec5408"/><stop offset="0.218" stop-color="#f57619"/><stop offset="0.328" stop-color="#fda933"/><stop offset="0.450" stop-color="#fdd35d"/><stop offset="0.568" stop-color="#e4db98"/><stop offset="0.660" stop-color="#dfebe5"/><stop offset="0.754" stop-color="#9dcbff"/><stop offset="0.846" stop-color="#6eadff"/><stop offset="0.920" stop-color="#1d60ff"/><stop offset="1.000" stop-color="#0c44ff"/></linearGradient>
<linearGradient id="gbp22" gradientUnits="userSpaceOnUse" x1="0" y1="25.0" x2="0" y2="75.0"><stop offset="0.000" stop-color="#dc4e09"/><stop offset="0.106" stop-color="#db4e08"/><stop offset="0.218" stop-color="#e36e18"/><stop offset="0.328" stop-color="#eb9d2f"/><stop offset="0.450" stop-color="#ebc456"/><stop offset="0.568" stop-color="#d4cc8d"/><stop offset="0.660" stop-color="#aabacc"/><stop offset="0.754" stop-color="#709feb"/><stop offset="0.846" stop-color="#3676ff"/><stop offset="0.920" stop-color="#0c44ff"/><stop offset="1.000" stop-color="#0c44ff"/></linearGradient>
<linearGradient id="gbp23" gradientUnits="userSpaceOnUse" x1="0" y1="25.0" x2="0" y2="75.0"><stop offset="0.000" stop-color="#e44f09"/><stop offset="0.106" stop-color="#e85308"/><stop offset="0.218" stop-color="#f07419"/><stop offset="0.328" stop-color="#f8a532"/><stop offset="0.450" stop-color="#f8cf5b"/><stop offset="0.568" stop-color="#dfd795"/><stop offset="0.660" stop-color="#acbcd7"/><stop offset="0.754" stop-color="#4f7ff0"/><stop offset="0.846" stop-color="#2360ff"/><stop offset="0.920" stop-color="#0c44ff"/><stop offset="1.000" stop-color="#0c44ff"/></linearGradient>
<linearGradient id="gbp24" gradientUnits="userSpaceOnUse" x1="0" y1="25.0" x2="0" y2="75.0"><stop offset="0.000" stop-color="#e54f08"/><stop offset="0.106" stop-color="#e95308"/><stop offset="0.218" stop-color="#f27519"/><stop offset="0.328" stop-color="#faa732"/><stop offset="0.450" stop-color="#fad05c"/><stop offset="0.568" stop-color="#e1d996"/><stop offset="0.660" stop-color="#a7b7d9"/><stop offset="0.754" stop-color="#2e5ef1"/><stop offset="0.846" stop-color="#144dff"/><stop offset="0.920" stop-color="#0c44ff"/><stop offset="1.000" stop-color="#0c44ff"/></linearGradient>
<linearGradient id="gbp25" gradientUnits="userSpaceOnUse" x1="0" y1="25.0" x2="0" y2="75.0"><stop offset="0.000" stop-color="#d74a08"/><stop offset="0.106" stop-color="#da4e08"/><stop offset="0.218" stop-color="#e26d17"/><stop offset="0.328" stop-color="#ea9c2f"/><stop offset="0.450" stop-color="#eac356"/><stop offset="0.568" stop-color="#d3cb8c"/><stop offset="0.660" stop-color="#9caccb"/><stop offset="0.754" stop-color="#1a4ff9"/><stop offset="0.846" stop-color="#0c44ff"/><stop offset="0.920" stop-color="#0c44ff"/><stop offset="1.000" stop-color="#0c44ff"/></linearGradient>
<clipPath id="cp_rp"><path d="M621.40,48.20 L622.00,53.30 L623.40,58.80 L626.20,63.40 L629.90,69.00 L631.60,71.40 L633.60,72.80 L635.60,72.40 L637.40,70.40 L638.80,68.20 L640.20,67.20 L642.00,66.80 L642.00,92.00 L641.00,96.00 L639.60,100.00 L637.60,105.00 L635.00,111.00 L632.40,117.40 L629.00,118.40 L626.00,116.60 L623.60,113.60 L622.80,111.60 L621.40,110.60 L620.80,108.40 L619.40,107.20 L618.80,105.00 L617.40,103.80 L616.80,101.40 L615.40,100.20 L614.80,97.60 L613.40,96.00 L612.40,92.00 L613.60,86.50 L615.30,81.00 L616.80,75.00 L617.70,70.00 L619.60,58.00 Z"/></clipPath>
<linearGradient id="grp0" gradientUnits="userSpaceOnUse" x1="0" y1="47.0" x2="0" y2="119.0"><stop offset="0.000" stop-color="#5a1000"/><stop offset="0.153" stop-color="#5a3008"/><stop offset="0.236" stop-color="#604010"/><stop offset="0.318" stop-color="#4b3e19"/><stop offset="0.394" stop-color="#687050"/><stop offset="0.472" stop-color="#506880"/><stop offset="0.549" stop-color="#2452b8"/><stop offset="0.625" stop-color="#0d32b2"/><stop offset="0.660" stop-color="#0b3dee"/><stop offset="0.740" stop-color="#0c44ff"/><stop offset="0.831" stop-color="#0c44ff"/><stop offset="0.908" stop-color="#0c44ff"/><stop offset="0.958" stop-color="#0c44ff"/><stop offset="1.000" stop-color="#0c44ff"/></linearGradient>
<linearGradient id="grp1" gradientUnits="userSpaceOnUse" x1="0" y1="47.0" x2="0" y2="119.0"><stop offset="0.000" stop-color="#621100"/><stop offset="0.153" stop-color="#623409"/><stop offset="0.236" stop-color="#684511"/><stop offset="0.318" stop-color="#51431b"/><stop offset="0.394" stop-color="#717a57"/><stop offset="0.472" stop-color="#57718b"/><stop offset="0.549" stop-color="#305eb6"/><stop offset="0.625" stop-color="#103ab5"/><stop offset="0.660" stop-color="#0a30cb"/><stop offset="0.740" stop-color="#0c44ff"/><stop offset="0.831" stop-color="#0c44ff"/><stop offset="0.908" stop-color="#0c44ff"/><stop offset="0.958" stop-color="#0c44ff"/><stop offset="1.000" stop-color="#0c44ff"/></linearGradient>
<linearGradient id="grp2" gradientUnits="userSpaceOnUse" x1="0" y1="47.0" x2="0" y2="119.0"><stop offset="0.000" stop-color="#5b1000"/><stop offset="0.153" stop-color="#5b3108"/><stop offset="0.236" stop-color="#614110"/><stop offset="0.318" stop-color="#4c3f19"/><stop offset="0.394" stop-color="#697151"/><stop offset="0.472" stop-color="#516982"/><stop offset="0.549" stop-color="#355b99"/><stop offset="0.625" stop-color="#143b9c"/><stop offset="0.660" stop-color="#0824ab"/><stop offset="0.740" stop-color="#0c44ff"/><stop offset="0.831" stop-color="#0c44ff"/><stop offset="0.908" stop-color="#0c44ff"/><stop offset="0.958" stop-color="#0c44ff"/><stop offset="1.000" stop-color="#0c44ff"/></linearGradient>
<linearGradient id="grp3" gradientUnits="userSpaceOnUse" x1="0" y1="47.0" x2="0" y2="119.0"><stop offset="0.000" stop-color="#5c1000"/><stop offset="0.153" stop-color="#5c3108"/><stop offset="0.236" stop-color="#624110"/><stop offset="0.318" stop-color="#4d3f1a"/><stop offset="0.394" stop-color="#6a7352"/><stop offset="0.472" stop-color="#506572"/><stop offset="0.549" stop-color="#3e6189"/><stop offset="0.625" stop-color="#20418c"/><stop offset="0.660" stop-color="#0c2291"/><stop offset="0.740" stop-color="#0a39e6"/><stop offset="0.831" stop-color="#0c44ff"/><stop offset="0.908" stop-color="#0c44ff"/><stop offset="0.958" stop-color="#0c44ff"/><stop offset="1.000" stop-color="#0c44ff"/></linearGradient>
<linearGradient id="grp4" gradientUnits="userSpaceOnUse" x1="0" y1="47.0" x2="0" y2="119.0"><stop offset="0.000" stop-color="#500e00"/><stop offset="0.153" stop-color="#502b07"/><stop offset="0.236" stop-color="#56390e"/><stop offset="0.318" stop-color="#433716"/><stop offset="0.394" stop-color="#5a5d3f"/><stop offset="0.472" stop-color="#455354"/><stop offset="0.549" stop-color="#395268"/><stop offset="0.625" stop-color="#263e6b"/><stop offset="0.660" stop-color="#0f1f69"/><stop offset="0.740" stop-color="#092ecd"/><stop offset="0.831" stop-color="#0c44ff"/><stop offset="0.908" stop-color="#0c44ff"/><stop offset="0.958" stop-color="#0c44ff"/><stop offset="1.000" stop-color="#0c44ff"/></linearGradient>
<linearGradient id="grp5" gradientUnits="userSpaceOnUse" x1="0" y1="47.0" x2="0" y2="119.0"><stop offset="0.000" stop-color="#570f00"/><stop offset="0.153" stop-color="#572e08"/><stop offset="0.236" stop-color="#5d3e0f"/><stop offset="0.318" stop-color="#493c18"/><stop offset="0.394" stop-color="#5d5b37"/><stop offset="0.472" stop-color="#49554b"/><stop offset="0.549" stop-color="#3d545e"/><stop offset="0.625" stop-color="#304666"/><stop offset="0.660" stop-color="#15235a"/><stop offset="0.740" stop-color="#0823a6"/><stop offset="0.831" stop-color="#0c44ff"/><stop offset="0.908" stop-color="#0c44ff"/><stop offset="0.958" stop-color="#0c44ff"/><stop offset="1.000" stop-color="#0c44ff"/></linearGradient>
<linearGradient id="grp6" gradientUnits="userSpaceOnUse" x1="0" y1="47.0" x2="0" y2="119.0"><stop offset="0.000" stop-color="#641200"/><stop offset="0.153" stop-color="#643308"/><stop offset="0.236" stop-color="#6a4411"/><stop offset="0.318" stop-color="#53441b"/><stop offset="0.394" stop-color="#655d31"/><stop offset="0.472" stop-color="#565c46"/><stop offset="0.549" stop-color="#455957"/><stop offset="0.625" stop-color="#3c5168"/><stop offset="0.660" stop-color="#1f2c52"/><stop offset="0.740" stop-color="#092191"/><stop offset="0.831" stop-color="#0c41f8"/><stop offset="0.908" stop-color="#0c44ff"/><stop offset="0.958" stop-color="#0c44ff"/><stop offset="1.000" stop-color="#0c44ff"/></linearGradient>
<linearGradient id="grp7" gradientUnits="userSpaceOnUse" x1="0" y1="47.0" x2="0" y2="119.0"><stop offset="0.000" stop-color="#581000"/><stop offset="0.153" stop-color="#582706"/><stop offset="0.236" stop-color="#5b330c"/><stop offset="0.318" stop-color="#493915"/><stop offset="0.394" stop-color="#554820"/><stop offset="0.472" stop-color="#4e4d31"/><stop offset="0.549" stop-color="#3e4a3c"/><stop offset="0.625" stop-color="#38484f"/><stop offset="0.660" stop-color="#263044"/><stop offset="0.740" stop-color="#09195d"/><stop offset="0.831" stop-color="#0a34dc"/><stop offset="0.908" stop-color="#0c44ff"/><stop offset="0.958" stop-color="#0c44ff"/><stop offset="1.000" stop-color="#0c44ff"/></linearGradient>
<linearGradient id="grp8" gradientUnits="userSpaceOnUse" x1="0" y1="47.0" x2="0" y2="119.0"><stop offset="0.000" stop-color="#641200"/><stop offset="0.153" stop-color="#642506"/><stop offset="0.236" stop-color="#66310a"/><stop offset="0.318" stop-color="#533e15"/><stop offset="0.394" stop-color="#654f22"/><stop offset="0.472" stop-color="#5c5329"/><stop offset="0.549" stop-color="#555a3e"/><stop offset="0.625" stop-color="#45534d"/><stop offset="0.660" stop-color="#37414a"/><stop offset="0.740" stop-color="#17296b"/><stop offset="0.831" stop-color="#0828c0"/><stop offset="0.908" stop-color="#0c44ff"/><stop offset="0.958" stop-color="#0c44ff"/><stop offset="1.000" stop-color="#0c44ff"/></linearGradient>
<linearGradient id="grp9" gradientUnits="userSpaceOnUse" x1="0" y1="47.0" x2="0" y2="119.0"><stop offset="0.000" stop-color="#611100"/><stop offset="0.153" stop-color="#601d04"/><stop offset="0.236" stop-color="#602606"/><stop offset="0.318" stop-color="#503611"/><stop offset="0.394" stop-color="#66481e"/><stop offset="0.472" stop-color="#625326"/><stop offset="0.549" stop-color="#615d37"/><stop offset="0.625" stop-color="#525a48"/><stop offset="0.660" stop-color="#414943"/><stop offset="0.740" stop-color="#233467"/><stop offset="0.831" stop-color="#0922a5"/><stop offset="0.908" stop-color="#0c44ff"/><stop offset="0.958" stop-color="#0c44ff"/><stop offset="1.000" stop-color="#0c44ff"/></linearGradient>
<linearGradient id="grp10" gradientUnits="userSpaceOnUse" x1="0" y1="47.0" x2="0" y2="119.0"><stop offset="0.000" stop-color="#631200"/><stop offset="0.153" stop-color="#5d1903"/><stop offset="0.236" stop-color="#5d1f04"/><stop offset="0.318" stop-color="#51320f"/><stop offset="0.394" stop-color="#6d461d"/><stop offset="0.472" stop-color="#6e5725"/><stop offset="0.549" stop-color="#726633"/><stop offset="0.625" stop-color="#646648"/><stop offset="0.660" stop-color="#3e4a56"/><stop offset="0.740" stop-color="#30426a"/><stop offset="0.831" stop-color="#091a7e"/><stop offset="0.908" stop-color="#0c44ff"/><stop offset="0.958" stop-color="#0c44ff"/><stop offset="1.000" stop-color="#0c44ff"/></linearGradient>
<linearGradient id="grp11" gradientUnits="userSpaceOnUse" x1="0" y1="47.0" x2="0" y2="119.0"><stop offset="0.000" stop-color="#5b1000"/><stop offset="0.153" stop-color="#501101"/><stop offset="0.236" stop-color="#501502"/><stop offset="0.318" stop-color="#49280b"/><stop offset="0.394" stop-color="#623a17"/><stop offset="0.472" stop-color="#6d5120"/><stop offset="0.549" stop-color="#705e2b"/><stop offset="0.625" stop-color="#6a6740"/><stop offset="0.660" stop-color="#314261"/><stop offset="0.740" stop-color="#2b3f6f"/><stop offset="0.831" stop-color="#091152"/><stop offset="0.908" stop-color="#0b3ae9"/><stop offset="0.958" stop-color="#0c44ff"/><stop offset="1.000" stop-color="#0c44ff"/></linearGradient>
<linearGradient id="grp12" gradientUnits="userSpaceOnUse" x1="0" y1="47.0" x2="0" y2="119.0"><stop offset="0.000" stop-color="#570f00"/><stop offset="0.153" stop-color="#470c00"/><stop offset="0.236" stop-color="#470d00"/><stop offset="0.318" stop-color="#442107"/><stop offset="0.394" stop-color="#583012"/><stop offset="0.472" stop-color="#684a1c"/><stop offset="0.549" stop-color="#6e5727"/><stop offset="0.625" stop-color="#6e663a"/><stop offset="0.660" stop-color="#283d6e"/><stop offset="0.740" stop-color="#21397f"/><stop offset="0.831" stop-color="#0e1853"/><stop offset="0.908" stop-color="#092fd0"/><stop offset="0.958" stop-color="#0c44ff"/><stop offset="1.000" stop-color="#0c44ff"/></linearGradient>
<linearGradient id="grp13" gradientUnits="userSpaceOnUse" x1="0" y1="47.0" x2="0" y2="119.0"><stop offset="0.000" stop-color="#510e00"/><stop offset="0.153" stop-color="#430b00"/><stop offset="0.236" stop-color="#420c00"/><stop offset="0.318" stop-color="#3e1b05"/><stop offset="0.394" stop-color="#4e260d"/><stop offset="0.472" stop-color="#5a3d17"/><stop offset="0.549" stop-color="#6a5023"/><stop offset="0.625" stop-color="#6a6033"/><stop offset="0.660" stop-color="#273a69"/><stop offset="0.740" stop-color="#18338b"/><stop offset="0.831" stop-color="#121e53"/><stop offset="0.908" stop-color="#0721a0"/><stop offset="0.958" stop-color="#0c44ff"/><stop offset="1.000" stop-color="#0c44ff"/></linearGradient>
<linearGradient id="grp14" gradientUnits="userSpaceOnUse" x1="0" y1="47.0" x2="0" y2="119.0"><stop offset="0.000" stop-color="#570f00"/><stop offset="0.153" stop-color="#470c00"/><stop offset="0.236" stop-color="#460d00"/><stop offset="0.318" stop-color="#3e1804"/><stop offset="0.394" stop-color="#4f230b"/><stop offset="0.472" stop-color="#583916"/><stop offset="0.549" stop-color="#715222"/><stop offset="0.625" stop-color="#756634"/><stop offset="0.660" stop-color="#3c455c"/><stop offset="0.740" stop-color="#293e82"/><stop offset="0.831" stop-color="#16255a"/><stop offset="0.908" stop-color="#081c86"/><stop offset="0.958" stop-color="#0b3cec"/><stop offset="1.000" stop-color="#0c44ff"/></linearGradient>
<linearGradient id="grp15" gradientUnits="userSpaceOnUse" x1="0" y1="47.0" x2="0" y2="119.0"><stop offset="0.000" stop-color="#5b1000"/><stop offset="0.153" stop-color="#4e0e00"/><stop offset="0.236" stop-color="#490d00"/><stop offset="0.318" stop-color="#3c1503"/><stop offset="0.394" stop-color="#4d2009"/><stop offset="0.472" stop-color="#543213"/><stop offset="0.549" stop-color="#6b4c1f"/><stop offset="0.625" stop-color="#7e6b32"/><stop offset="0.660" stop-color="#504f4b"/><stop offset="0.740" stop-color="#444c66"/><stop offset="0.831" stop-color="#111e53"/><stop offset="0.908" stop-color="#081464"/><stop offset="0.958" stop-color="#0930d3"/><stop offset="1.000" stop-color="#0c44ff"/></linearGradient>
<linearGradient id="grp16" gradientUnits="userSpaceOnUse" x1="0" y1="47.0" x2="0" y2="119.0"><stop offset="0.000" stop-color="#530f00"/><stop offset="0.153" stop-color="#4d0f01"/><stop offset="0.236" stop-color="#420c00"/><stop offset="0.318" stop-color="#331001"/><stop offset="0.394" stop-color="#411906"/><stop offset="0.472" stop-color="#49290e"/><stop offset="0.549" stop-color="#593e17"/><stop offset="0.625" stop-color="#6c5b29"/><stop offset="0.660" stop-color="#5a4f31"/><stop offset="0.740" stop-color="#56503f"/><stop offset="0.831" stop-color="#0b1441"/><stop offset="0.908" stop-color="#09114a"/><stop offset="0.958" stop-color="#0827be"/><stop offset="1.000" stop-color="#0c44ff"/></linearGradient>
<linearGradient id="grp17" gradientUnits="userSpaceOnUse" x1="0" y1="47.0" x2="0" y2="119.0"><stop offset="0.000" stop-color="#5b1000"/><stop offset="0.153" stop-color="#5b1402"/><stop offset="0.236" stop-color="#480d00"/><stop offset="0.318" stop-color="#340d00"/><stop offset="0.394" stop-color="#421604"/><stop offset="0.472" stop-color="#4c270b"/><stop offset="0.549" stop-color="#573b14"/><stop offset="0.625" stop-color="#6f5c27"/><stop offset="0.660" stop-color="#62532c"/><stop offset="0.740" stop-color="#5d5538"/><stop offset="0.831" stop-color="#0e153e"/><stop offset="0.908" stop-color="#0c1951"/><stop offset="0.958" stop-color="#0825b5"/><stop offset="1.000" stop-color="#0c44ff"/></linearGradient>
<linearGradient id="grp18" gradientUnits="userSpaceOnUse" x1="0" y1="47.0" x2="0" y2="119.0"><stop offset="0.000" stop-color="#560f00"/><stop offset="0.153" stop-color="#5c1602"/><stop offset="0.236" stop-color="#430c00"/><stop offset="0.318" stop-color="#2f0b00"/><stop offset="0.394" stop-color="#3a1101"/><stop offset="0.472" stop-color="#442007"/><stop offset="0.549" stop-color="#503411"/><stop offset="0.625" stop-color="#635020"/><stop offset="0.660" stop-color="#594a23"/><stop offset="0.740" stop-color="#544c2c"/><stop offset="0.831" stop-color="#1e2232"/><stop offset="0.908" stop-color="#0e1d4d"/><stop offset="0.958" stop-color="#0822a6"/><stop offset="1.000" stop-color="#0c44ff"/></linearGradient>
<linearGradient id="grp19" gradientUnits="userSpaceOnUse" x1="0" y1="47.0" x2="0" y2="119.0"><stop offset="0.000" stop-color="#5b1000"/><stop offset="0.153" stop-color="#681b03"/><stop offset="0.236" stop-color="#4d0f01"/><stop offset="0.318" stop-color="#300a00"/><stop offset="0.394" stop-color="#3b1000"/><stop offset="0.472" stop-color="#471f05"/><stop offset="0.549" stop-color="#563610"/><stop offset="0.625" stop-color="#65511e"/><stop offset="0.660" stop-color="#5a491d"/><stop offset="0.740" stop-color="#534b25"/><stop offset="0.831" stop-color="#30322d"/><stop offset="0.908" stop-color="#142451"/><stop offset="0.958" stop-color="#0822a6"/><stop offset="1.000" stop-color="#0c44ff"/></linearGradient>
<linearGradient id="grp20" gradientUnits="userSpaceOnUse" x1="0" y1="47.0" x2="0" y2="119.0"><stop offset="0.000" stop-color="#581000"/><stop offset="0.153" stop-color="#6b1d04"/><stop offset="0.236" stop-color="#521201"/><stop offset="0.318" stop-color="#2c0900"/><stop offset="0.394" stop-color="#390e00"/><stop offset="0.472" stop-color="#451c04"/><stop offset="0.549" stop-color="#55320d"/><stop offset="0.625" stop-color="#624d1c"/><stop offset="0.660" stop-color="#5b4719"/><stop offset="0.740" stop-color="#5a5126"/><stop offset="0.831" stop-color="#434433"/><stop offset="0.908" stop-color="#19284f"/><stop offset="0.958" stop-color="#0821a0"/><stop offset="1.000" stop-color="#0c44ff"/></linearGradient>
<linearGradient id="grp21" gradientUnits="userSpaceOnUse" x1="0" y1="47.0" x2="0" y2="119.0"><stop offset="0.000" stop-color="#520f00"/><stop offset="0.153" stop-color="#691e04"/><stop offset="0.236" stop-color="#531502"/><stop offset="0.318" stop-color="#2d0900"/><stop offset="0.394" stop-color="#350d00"/><stop offset="0.472" stop-color="#401902"/><stop offset="0.549" stop-color="#512e0b"/><stop offset="0.625" stop-color="#5b4618"/><stop offset="0.660" stop-color="#5e4919"/><stop offset="0.740" stop-color="#685e30"/><stop offset="0.831" stop-color="#545845"/><stop offset="0.908" stop-color="#1c2b49"/><stop offset="0.958" stop-color="#072199"/><stop offset="1.000" stop-color="#0c44ff"/></linearGradient>
<linearGradient id="grp22" gradientUnits="userSpaceOnUse" x1="0" y1="47.0" x2="0" y2="119.0"><stop offset="0.000" stop-color="#581000"/><stop offset="0.153" stop-color="#772305"/><stop offset="0.236" stop-color="#611a03"/><stop offset="0.318" stop-color="#350b00"/><stop offset="0.394" stop-color="#390d00"/><stop offset="0.472" stop-color="#441a01"/><stop offset="0.549" stop-color="#5c350c"/><stop offset="0.625" stop-color="#654c19"/><stop offset="0.660" stop-color="#70551d"/><stop offset="0.740" stop-color="#867941"/><stop offset="0.831" stop-color="#717862"/><stop offset="0.908" stop-color="#3d5b7b"/><stop offset="0.958" stop-color="#0826a9"/><stop offset="1.000" stop-color="#0c44ff"/></linearGradient>
<linearGradient id="grp23" gradientUnits="userSpaceOnUse" x1="0" y1="47.0" x2="0" y2="119.0"><stop offset="0.000" stop-color="#5f1100"/><stop offset="0.153" stop-color="#872a06"/><stop offset="0.236" stop-color="#712004"/><stop offset="0.318" stop-color="#3f0d00"/><stop offset="0.394" stop-color="#3d0d00"/><stop offset="0.472" stop-color="#4a1a00"/><stop offset="0.549" stop-color="#6b3d0d"/><stop offset="0.625" stop-color="#896722"/><stop offset="0.660" stop-color="#846421"/><stop offset="0.740" stop-color="#aa9955"/><stop offset="0.831" stop-color="#9eac98"/><stop offset="0.908" stop-color="#6da3c5"/><stop offset="0.958" stop-color="#0a2dba"/><stop offset="1.000" stop-color="#0c44ff"/></linearGradient>
<linearGradient id="grp24" gradientUnits="userSpaceOnUse" x1="0" y1="47.0" x2="0" y2="119.0"><stop offset="0.000" stop-color="#500e00"/><stop offset="0.153" stop-color="#772606"/><stop offset="0.236" stop-color="#651e04"/><stop offset="0.318" stop-color="#3a0c00"/><stop offset="0.394" stop-color="#410f00"/><stop offset="0.472" stop-color="#511e02"/><stop offset="0.549" stop-color="#5e360b"/><stop offset="0.625" stop-color="#8a6823"/><stop offset="0.660" stop-color="#8c702c"/><stop offset="0.740" stop-color="#a9a06e"/><stop offset="0.831" stop-color="#aabfb8"/><stop offset="0.908" stop-color="#68a3cb"/><stop offset="0.958" stop-color="#113ad3"/><stop offset="1.000" stop-color="#0c44ff"/></linearGradient>
<linearGradient id="grp25" gradientUnits="userSpaceOnUse" x1="0" y1="47.0" x2="0" y2="119.0"><stop offset="0.000" stop-color="#581000"/><stop offset="0.153" stop-color="#892d07"/><stop offset="0.236" stop-color="#772505"/><stop offset="0.318" stop-color="#450f00"/><stop offset="0.394" stop-color="#571500"/><stop offset="0.472" stop-color="#6e2a04"/><stop offset="0.549" stop-color="#7f4b10"/><stop offset="0.625" stop-color="#b2862d"/><stop offset="0.660" stop-color="#ba9c43"/><stop offset="0.740" stop-color="#d8d3a5"/><stop offset="0.831" stop-color="#d6f7f9"/><stop offset="0.908" stop-color="#59a3f3"/><stop offset="0.958" stop-color="#1746ed"/><stop offset="1.000" stop-color="#0c44ff"/></linearGradient>
<linearGradient id="grp26" gradientUnits="userSpaceOnUse" x1="0" y1="47.0" x2="0" y2="119.0"><stop offset="0.000" stop-color="#5b1000"/><stop offset="0.153" stop-color="#953208"/><stop offset="0.236" stop-color="#842a06"/><stop offset="0.318" stop-color="#4f1200"/><stop offset="0.394" stop-color="#6a1a00"/><stop offset="0.472" stop-color="#873407"/><stop offset="0.549" stop-color="#a26217"/><stop offset="0.625" stop-color="#cfa43f"/><stop offset="0.660" stop-color="#e3c358"/><stop offset="0.740" stop-color="#fbfcd5"/><stop offset="0.831" stop-color="#c7f5ff"/><stop offset="0.908" stop-color="#3d8bff"/><stop offset="0.958" stop-color="#1246f7"/><stop offset="1.000" stop-color="#0c44ff"/></linearGradient>
<linearGradient id="grp27" gradientUnits="userSpaceOnUse" x1="0" y1="47.0" x2="0" y2="119.0"><stop offset="0.000" stop-color="#4f0e00"/><stop offset="0.153" stop-color="#872e07"/><stop offset="0.236" stop-color="#792806"/><stop offset="0.318" stop-color="#541601"/><stop offset="0.394" stop-color="#6d1d01"/><stop offset="0.472" stop-color="#893808"/><stop offset="0.549" stop-color="#a76619"/><stop offset="0.625" stop-color="#c5a74a"/><stop offset="0.660" stop-color="#d5bc5f"/><stop offset="0.740" stop-color="#d3ddc7"/><stop offset="0.831" stop-color="#9acce1"/><stop offset="0.908" stop-color="#2162ff"/><stop offset="0.958" stop-color="#0c44ff"/><stop offset="1.000" stop-color="#0c44ff"/></linearGradient>
<linearGradient id="grp28" gradientUnits="userSpaceOnUse" x1="0" y1="47.0" x2="0" y2="119.0"><stop offset="0.000" stop-color="#571000"/><stop offset="0.153" stop-color="#9b3609"/><stop offset="0.236" stop-color="#8d3008"/><stop offset="0.318" stop-color="#6e1f02"/><stop offset="0.394" stop-color="#8e2a03"/><stop offset="0.472" stop-color="#ad4a0b"/><stop offset="0.549" stop-color="#ce8322"/><stop offset="0.625" stop-color="#ecd367"/><stop offset="0.660" stop-color="#eed97f"/><stop offset="0.740" stop-color="#e1f6eb"/><stop offset="0.831" stop-color="#8ac9f8"/><stop offset="0.908" stop-color="#0c44ff"/><stop offset="0.958" stop-color="#0c44ff"/><stop offset="1.000" stop-color="#0c44ff"/></linearGradient>
<linearGradient id="grp29" gradientUnits="userSpaceOnUse" x1="0" y1="47.0" x2="0" y2="119.0"><stop offset="0.000" stop-color="#571000"/><stop offset="0.153" stop-color="#a13909"/><stop offset="0.236" stop-color="#943308"/><stop offset="0.318" stop-color="#7e2603"/><stop offset="0.394" stop-color="#a43406"/><stop offset="0.472" stop-color="#c3580d"/><stop offset="0.549" stop-color="#d9952b"/><stop offset="0.625" stop-color="#f2dd79"/><stop offset="0.660" stop-color="#f1e395"/><stop offset="0.740" stop-color="#d6f6f7"/><stop offset="0.831" stop-color="#5c9af7"/><stop offset="0.908" stop-color="#0c44ff"/><stop offset="0.958" stop-color="#0c44ff"/><stop offset="1.000" stop-color="#0c44ff"/></linearGradient>
<linearGradient id="grp30" gradientUnits="userSpaceOnUse" x1="0" y1="47.0" x2="0" y2="119.0"><stop offset="0.000" stop-color="#601100"/><stop offset="0.153" stop-color="#b7410b"/><stop offset="0.236" stop-color="#aa3c0a"/><stop offset="0.318" stop-color="#9c3104"/><stop offset="0.394" stop-color="#cc4408"/><stop offset="0.472" stop-color="#ee6e11"/><stop offset="0.549" stop-color="#fab639"/><stop offset="0.625" stop-color="#fff896"/><stop offset="0.660" stop-color="#ffffbb"/><stop offset="0.740" stop-color="#cdfbff"/><stop offset="0.831" stop-color="#3070ff"/><stop offset="0.908" stop-color="#0c44ff"/><stop offset="0.958" stop-color="#0c44ff"/><stop offset="1.000" stop-color="#0c44ff"/></linearGradient>
<linearGradient id="grp31" gradientUnits="userSpaceOnUse" x1="0" y1="47.0" x2="0" y2="119.0"><stop offset="0.000" stop-color="#5b1000"/><stop offset="0.153" stop-color="#b4410b"/><stop offset="0.236" stop-color="#aa3d0a"/><stop offset="0.318" stop-color="#a63705"/><stop offset="0.394" stop-color="#d04c0a"/><stop offset="0.472" stop-color="#e97415"/><stop offset="0.549" stop-color="#f9bf3f"/><stop offset="0.625" stop-color="#fef19f"/><stop offset="0.660" stop-color="#f7efaf"/><stop offset="0.740" stop-color="#a6def6"/><stop offset="0.831" stop-color="#1e5aff"/><stop offset="0.908" stop-color="#0c44ff"/><stop offset="0.958" stop-color="#0c44ff"/><stop offset="1.000" stop-color="#0c44ff"/></linearGradient>
<linearGradient id="grp32" gradientUnits="userSpaceOnUse" x1="0" y1="47.0" x2="0" y2="119.0"><stop offset="0.000" stop-color="#641200"/><stop offset="0.153" stop-color="#cd4b0d"/><stop offset="0.236" stop-color="#c3470c"/><stop offset="0.318" stop-color="#cd490a"/><stop offset="0.394" stop-color="#f3600e"/><stop offset="0.472" stop-color="#ff8d1c"/><stop offset="0.549" stop-color="#ffd345"/><stop offset="0.625" stop-color="#ffffa4"/><stop offset="0.660" stop-color="#ffffbd"/><stop offset="0.740" stop-color="#91d5ff"/><stop offset="0.831" stop-color="#0c44ff"/><stop offset="0.908" stop-color="#0c44ff"/><stop offset="0.958" stop-color="#0c44ff"/><stop offset="1.000" stop-color="#0c44ff"/></linearGradient>
<linearGradient id="grp33" gradientUnits="userSpaceOnUse" x1="0" y1="47.0" x2="0" y2="119.0"><stop offset="0.000" stop-color="#611100"/><stop offset="0.153" stop-color="#cd4c0d"/><stop offset="0.236" stop-color="#c5490d"/><stop offset="0.318" stop-color="#db530d"/><stop offset="0.394" stop-color="#fa6910"/><stop offset="0.472" stop-color="#ff9420"/><stop offset="0.549" stop-color="#ffc940"/><stop offset="0.625" stop-color="#ffef90"/><stop offset="0.660" stop-color="#f8efb4"/><stop offset="0.740" stop-color="#4b80f0"/><stop offset="0.831" stop-color="#0c44ff"/><stop offset="0.908" stop-color="#0c44ff"/><stop offset="0.958" stop-color="#0c44ff"/><stop offset="1.000" stop-color="#0c44ff"/></linearGradient>
<linearGradient id="grp34" gradientUnits="userSpaceOnUse" x1="0" y1="47.0" x2="0" y2="119.0"><stop offset="0.000" stop-color="#621100"/><stop offset="0.153" stop-color="#d6510e"/><stop offset="0.236" stop-color="#cf4e0e"/><stop offset="0.318" stop-color="#f35f11"/><stop offset="0.394" stop-color="#fe6e10"/><stop offset="0.472" stop-color="#ff9921"/><stop offset="0.549" stop-color="#ffc93e"/><stop offset="0.625" stop-color="#ffe883"/><stop offset="0.660" stop-color="#f3eab2"/><stop offset="0.740" stop-color="#285af3"/><stop offset="0.831" stop-color="#0c44ff"/><stop offset="0.908" stop-color="#0c44ff"/><stop offset="0.958" stop-color="#0c44ff"/><stop offset="1.000" stop-color="#0c44ff"/></linearGradient>
<linearGradient id="grp35" gradientUnits="userSpaceOnUse" x1="0" y1="47.0" x2="0" y2="119.0"><stop offset="0.000" stop-color="#601100"/><stop offset="0.153" stop-color="#d8520f"/><stop offset="0.236" stop-color="#d3500e"/><stop offset="0.318" stop-color="#e0560d"/><stop offset="0.394" stop-color="#ed660d"/><stop offset="0.472" stop-color="#fa901e"/><stop offset="0.549" stop-color="#ffbe3a"/><stop offset="0.625" stop-color="#f8d673"/><stop offset="0.660" stop-color="#e6deaa"/><stop offset="0.740" stop-color="#184dfa"/><stop offset="0.831" stop-color="#0c44ff"/><stop offset="0.908" stop-color="#0c44ff"/><stop offset="0.958" stop-color="#0c44ff"/><stop offset="1.000" stop-color="#0c44ff"/></linearGradient>
<linearGradient id="grp36" gradientUnits="userSpaceOnUse" x1="0" y1="47.0" x2="0" y2="119.0"><stop offset="0.000" stop-color="#5a1000"/><stop offset="0.153" stop-color="#d3510f"/><stop offset="0.236" stop-color="#cf500e"/><stop offset="0.318" stop-color="#c64b09"/><stop offset="0.394" stop-color="#d55a09"/><stop offset="0.472" stop-color="#e48319"/><stop offset="0.549" stop-color="#e6a632"/><stop offset="0.625" stop-color="#d8b864"/><stop offset="0.660" stop-color="#d7cfa1"/><stop offset="0.740" stop-color="#0c44ff"/><stop offset="0.831" stop-color="#0c44ff"/><stop offset="0.908" stop-color="#0c44ff"/><stop offset="0.958" stop-color="#0c44ff"/><stop offset="1.000" stop-color="#0c44ff"/></linearGradient>
<linearGradient id="grp37" gradientUnits="userSpaceOnUse" x1="0" y1="47.0" x2="0" y2="119.0"><stop offset="0.000" stop-color="#520f00"/><stop offset="0.153" stop-color="#c44c0e"/><stop offset="0.236" stop-color="#c34c0e"/><stop offset="0.318" stop-color="#ae4107"/><stop offset="0.394" stop-color="#bd5007"/><stop offset="0.472" stop-color="#cc7416"/><stop offset="0.549" stop-color="#cc912c"/><stop offset="0.625" stop-color="#bda057"/><stop offset="0.660" stop-color="#c0b991"/><stop offset="0.740" stop-color="#0c44ff"/><stop offset="0.831" stop-color="#0c44ff"/><stop offset="0.908" stop-color="#0c44ff"/><stop offset="0.958" stop-color="#0c44ff"/><stop offset="1.000" stop-color="#0c44ff"/></linearGradient>
<linearGradient id="grp38" gradientUnits="userSpaceOnUse" x1="0" y1="47.0" x2="0" y2="119.0"><stop offset="0.000" stop-color="#591000"/><stop offset="0.153" stop-color="#d9550f"/><stop offset="0.236" stop-color="#d8540f"/><stop offset="0.318" stop-color="#be4708"/><stop offset="0.394" stop-color="#ce5708"/><stop offset="0.472" stop-color="#de7f18"/><stop offset="0.549" stop-color="#de9e2f"/><stop offset="0.625" stop-color="#ceae5f"/><stop offset="0.660" stop-color="#d0c89e"/><stop offset="0.740" stop-color="#0c44ff"/><stop offset="0.831" stop-color="#0c44ff"/><stop offset="0.908" stop-color="#0c44ff"/><stop offset="0.958" stop-color="#0c44ff"/><stop offset="1.000" stop-color="#0c44ff"/></linearGradient>
<linearGradient id="v5" gradientUnits="userSpaceOnUse" x1="0" y1="190.00" x2="0" y2="140.00"><stop offset="0.000" stop-color="#0c44ff"/><stop offset="0.030" stop-color="#2a8cff"/><stop offset="0.080" stop-color="#9fe8ff"/><stop offset="0.150" stop-color="#f4ffff"/><stop offset="0.300" stop-color="#fbf2b4"/><stop offset="0.460" stop-color="#f5d060"/><stop offset="0.620" stop-color="#f4a030"/><stop offset="0.800" stop-color="#f07414"/><stop offset="1.000" stop-color="#e05a0c"/></linearGradient>
<linearGradient id="h5" gradientUnits="userSpaceOnUse" x1="535.50" y1="0" x2="560.50" y2="0"><stop offset="0.000" stop-color="#000" stop-opacity="0.70"/><stop offset="0.100" stop-color="#000" stop-opacity="0.58"/><stop offset="0.220" stop-color="#000" stop-opacity="0.38"/><stop offset="0.340" stop-color="#000" stop-opacity="0.10"/><stop offset="0.450" stop-color="#000" stop-opacity="0.00"/><stop offset="0.620" stop-color="#000" stop-opacity="0.00"/><stop offset="0.700" stop-color="#000" stop-opacity="0.25"/><stop offset="0.760" stop-color="#000" stop-opacity="0.38"/><stop offset="0.820" stop-color="#000" stop-opacity="0.12"/><stop offset="0.900" stop-color="#000" stop-opacity="0.28"/><stop offset="0.950" stop-color="#000" stop-opacity="0.45"/><stop offset="1.000" stop-color="#000" stop-opacity="0.35"/></linearGradient>
<linearGradient id="v6" gradientUnits="userSpaceOnUse" x1="0" y1="185.00" x2="0" y2="133.00"><stop offset="0.000" stop-color="#0c44ff"/><stop offset="0.030" stop-color="#2a8cff"/><stop offset="0.080" stop-color="#9fe8ff"/><stop offset="0.150" stop-color="#f4ffff"/><stop offset="0.300" stop-color="#fbf2b4"/><stop offset="0.460" stop-color="#f5d060"/><stop offset="0.620" stop-color="#f4a030"/><stop offset="0.800" stop-color="#f07414"/><stop offset="1.000" stop-color="#e05a0c"/></linearGradient>
<linearGradient id="h6" gradientUnits="userSpaceOnUse" x1="561.50" y1="0" x2="591.00" y2="0"><stop offset="0.000" stop-color="#000" stop-opacity="0.70"/><stop offset="0.080" stop-color="#000" stop-opacity="0.60"/><stop offset="0.160" stop-color="#000" stop-opacity="0.48"/><stop offset="0.240" stop-color="#000" stop-opacity="0.70"/><stop offset="0.360" stop-color="#000" stop-opacity="0.80"/><stop offset="0.500" stop-color="#000" stop-opacity="0.78"/><stop offset="0.600" stop-color="#000" stop-opacity="0.66"/><stop offset="0.680" stop-color="#000" stop-opacity="0.45"/><stop offset="0.760" stop-color="#000" stop-opacity="0.18"/><stop offset="0.840" stop-color="#000" stop-opacity="0.00"/><stop offset="0.940" stop-color="#000" stop-opacity="0.00"/><stop offset="1.000" stop-color="#000" stop-opacity="0.10"/></linearGradient>
<linearGradient id="dk5" gradientUnits="userSpaceOnUse" x1="546" y1="166" x2="536" y2="187"><stop offset="0" stop-color="#000a40" stop-opacity="0"/><stop offset="0.5" stop-color="#000a40" stop-opacity="0.3"/><stop offset="1" stop-color="#000a40" stop-opacity="0.8"/></linearGradient>
<linearGradient id="dk6" gradientUnits="userSpaceOnUse" x1="584" y1="160" x2="568" y2="183"><stop offset="0" stop-color="#000a40" stop-opacity="0"/><stop offset="0.5" stop-color="#000a40" stop-opacity="0.2"/><stop offset="1" stop-color="#000a40" stop-opacity="0.7"/></linearGradient>
<clipPath id="cp_fr"><path d="M562.20,122.00 L561.40,130.00 L560.80,140.00 L560.80,166.00 L562.60,171.00 L564.60,176.00 L566.80,181.00 L570.00,184.00 L582.00,184.60 L585.40,181.40 L588.20,176.40 L590.00,171.40 L590.60,165.00 L590.60,133.00 L584.00,133.00 L578.00,131.00 L572.00,127.50 L566.00,124.00 Z"/></clipPath>
<linearGradient id="gfr0" gradientUnits="userSpaceOnUse" x1="0" y1="122.0" x2="0" y2="185.0"><stop offset="0.000" stop-color="#6a3711"/><stop offset="0.175" stop-color="#5f3711"/><stop offset="0.286" stop-color="#563f19"/><stop offset="0.402" stop-color="#4c4822"/><stop offset="0.521" stop-color="#3a514b"/><stop offset="0.640" stop-color="#2a5264"/><stop offset="0.698" stop-color="#305a78"/><stop offset="0.783" stop-color="#0930b9"/><stop offset="0.857" stop-color="#0c41f8"/><stop offset="0.932" stop-color="#0c42fc"/><stop offset="1.000" stop-color="#0c43fd"/></linearGradient>
<linearGradient id="gfr1" gradientUnits="userSpaceOnUse" x1="0" y1="122.0" x2="0" y2="185.0"><stop offset="0.000" stop-color="#72380e"/><stop offset="0.175" stop-color="#68370e"/><stop offset="0.286" stop-color="#5d3f16"/><stop offset="0.402" stop-color="#52481f"/><stop offset="0.521" stop-color="#42503e"/><stop offset="0.640" stop-color="#345354"/><stop offset="0.698" stop-color="#34586a"/><stop offset="0.783" stop-color="#0b32b3"/><stop offset="0.857" stop-color="#0b3beb"/><stop offset="0.932" stop-color="#0b3ff5"/><stop offset="1.000" stop-color="#0b40fa"/></linearGradient>
<linearGradient id="gfr2" gradientUnits="userSpaceOnUse" x1="0" y1="122.0" x2="0" y2="185.0"><stop offset="0.000" stop-color="#823e0c"/><stop offset="0.175" stop-color="#783c0c"/><stop offset="0.286" stop-color="#6b4415"/><stop offset="0.402" stop-color="#5e4d1d"/><stop offset="0.521" stop-color="#4e5536"/><stop offset="0.640" stop-color="#415a4b"/><stop offset="0.698" stop-color="#3c5e65"/><stop offset="0.783" stop-color="#0d33a8"/><stop offset="0.857" stop-color="#0a35de"/><stop offset="0.932" stop-color="#0b3cef"/><stop offset="1.000" stop-color="#0b3ef7"/></linearGradient>
<linearGradient id="gfr3" gradientUnits="userSpaceOnUse" x1="0" y1="122.0" x2="0" y2="185.0"><stop offset="0.000" stop-color="#873e0a"/><stop offset="0.175" stop-color="#7e3b0a"/><stop offset="0.286" stop-color="#714312"/><stop offset="0.402" stop-color="#634b1a"/><stop offset="0.521" stop-color="#53532a"/><stop offset="0.640" stop-color="#49593c"/><stop offset="0.698" stop-color="#3f5b58"/><stop offset="0.783" stop-color="#0e3090"/><stop offset="0.857" stop-color="#092fd1"/><stop offset="0.932" stop-color="#0b38e8"/><stop offset="1.000" stop-color="#0b3bf4"/></linearGradient>
<linearGradient id="gfr4" gradientUnits="userSpaceOnUse" x1="0" y1="122.0" x2="0" y2="185.0"><stop offset="0.000" stop-color="#904108"/><stop offset="0.175" stop-color="#883d08"/><stop offset="0.286" stop-color="#794510"/><stop offset="0.402" stop-color="#6a4c18"/><stop offset="0.521" stop-color="#5a5421"/><stop offset="0.640" stop-color="#525b31"/><stop offset="0.698" stop-color="#445c4f"/><stop offset="0.783" stop-color="#0f2e7f"/><stop offset="0.857" stop-color="#0829c3"/><stop offset="0.932" stop-color="#0a35e2"/><stop offset="1.000" stop-color="#0a39f1"/></linearGradient>
<linearGradient id="gfr5" gradientUnits="userSpaceOnUse" x1="0" y1="122.0" x2="0" y2="185.0"><stop offset="0.000" stop-color="#933f06"/><stop offset="0.175" stop-color="#8c3c06"/><stop offset="0.286" stop-color="#7e430f"/><stop offset="0.402" stop-color="#6f4b17"/><stop offset="0.521" stop-color="#665821"/><stop offset="0.640" stop-color="#5c622f"/><stop offset="0.698" stop-color="#4b624e"/><stop offset="0.783" stop-color="#143178"/><stop offset="0.857" stop-color="#0826b9"/><stop offset="0.932" stop-color="#0a31d7"/><stop offset="1.000" stop-color="#0a37ed"/></linearGradient>
<linearGradient id="gfr6" gradientUnits="userSpaceOnUse" x1="0" y1="122.0" x2="0" y2="185.0"><stop offset="0.000" stop-color="#7b3204"/><stop offset="0.175" stop-color="#773104"/><stop offset="0.286" stop-color="#6c360b"/><stop offset="0.402" stop-color="#613c13"/><stop offset="0.521" stop-color="#614e1e"/><stop offset="0.640" stop-color="#565a29"/><stop offset="0.698" stop-color="#475a43"/><stop offset="0.783" stop-color="#162d61"/><stop offset="0.857" stop-color="#0722a4"/><stop offset="0.932" stop-color="#092dcc"/><stop offset="1.000" stop-color="#0a36e8"/></linearGradient>
<linearGradient id="gfr7" gradientUnits="userSpaceOnUse" x1="0" y1="122.0" x2="0" y2="185.0"><stop offset="0.000" stop-color="#863302"/><stop offset="0.175" stop-color="#853202"/><stop offset="0.286" stop-color="#7a380b"/><stop offset="0.402" stop-color="#6f3d14"/><stop offset="0.521" stop-color="#795b24"/><stop offset="0.640" stop-color="#696b2f"/><stop offset="0.698" stop-color="#576b4b"/><stop offset="0.783" stop-color="#203665"/><stop offset="0.857" stop-color="#0926ba"/><stop offset="0.932" stop-color="#0829c1"/><stop offset="1.000" stop-color="#0a35e3"/></linearGradient>
<linearGradient id="gfr8" gradientUnits="userSpaceOnUse" x1="0" y1="122.0" x2="0" y2="185.0"><stop offset="0.000" stop-color="#6f2700"/><stop offset="0.175" stop-color="#6f2700"/><stop offset="0.286" stop-color="#672b08"/><stop offset="0.402" stop-color="#602f0f"/><stop offset="0.521" stop-color="#704f1f"/><stop offset="0.640" stop-color="#605f28"/><stop offset="0.698" stop-color="#50603f"/><stop offset="0.783" stop-color="#203050"/><stop offset="0.857" stop-color="#08209e"/><stop offset="0.932" stop-color="#0826b7"/><stop offset="1.000" stop-color="#0a34e0"/></linearGradient>
<linearGradient id="gfr9" gradientUnits="userSpaceOnUse" x1="0" y1="122.0" x2="0" y2="185.0"><stop offset="0.000" stop-color="#6e2500"/><stop offset="0.175" stop-color="#6e2500"/><stop offset="0.286" stop-color="#682907"/><stop offset="0.402" stop-color="#612d0e"/><stop offset="0.521" stop-color="#714e1d"/><stop offset="0.640" stop-color="#645f28"/><stop offset="0.698" stop-color="#53613e"/><stop offset="0.783" stop-color="#213152"/><stop offset="0.857" stop-color="#09219c"/><stop offset="0.932" stop-color="#0928c3"/><stop offset="1.000" stop-color="#0a33de"/></linearGradient>
<linearGradient id="gfr10" gradientUnits="userSpaceOnUse" x1="0" y1="122.0" x2="0" y2="185.0"><stop offset="0.000" stop-color="#5b1d00"/><stop offset="0.175" stop-color="#5b1d00"/><stop offset="0.286" stop-color="#572005"/><stop offset="0.402" stop-color="#53230a"/><stop offset="0.521" stop-color="#604016"/><stop offset="0.640" stop-color="#575021"/><stop offset="0.698" stop-color="#495333"/><stop offset="0.783" stop-color="#1d2946"/><stop offset="0.857" stop-color="#081d7f"/><stop offset="0.932" stop-color="#0823ad"/><stop offset="1.000" stop-color="#0a32dd"/></linearGradient>
<linearGradient id="gfr11" gradientUnits="userSpaceOnUse" x1="0" y1="122.0" x2="0" y2="185.0"><stop offset="0.000" stop-color="#5a1a00"/><stop offset="0.175" stop-color="#5a1a00"/><stop offset="0.286" stop-color="#581e04"/><stop offset="0.402" stop-color="#552108"/><stop offset="0.521" stop-color="#633f14"/><stop offset="0.640" stop-color="#5c5022"/><stop offset="0.698" stop-color="#4e5532"/><stop offset="0.783" stop-color="#1e2b49"/><stop offset="0.857" stop-color="#091e7e"/><stop offset="0.932" stop-color="#0926bb"/><stop offset="1.000" stop-color="#0a32db"/></linearGradient>
<linearGradient id="gfr12" gradientUnits="userSpaceOnUse" x1="0" y1="122.0" x2="0" y2="185.0"><stop offset="0.000" stop-color="#491300"/><stop offset="0.175" stop-color="#491300"/><stop offset="0.286" stop-color="#481602"/><stop offset="0.402" stop-color="#481804"/><stop offset="0.521" stop-color="#53320e"/><stop offset="0.640" stop-color="#4f421c"/><stop offset="0.698" stop-color="#434828"/><stop offset="0.783" stop-color="#1a243e"/><stop offset="0.857" stop-color="#081a64"/><stop offset="0.932" stop-color="#0821a5"/><stop offset="1.000" stop-color="#0a31da"/></linearGradient>
<linearGradient id="gfr13" gradientUnits="userSpaceOnUse" x1="0" y1="122.0" x2="0" y2="185.0"><stop offset="0.000" stop-color="#380d00"/><stop offset="0.175" stop-color="#380d00"/><stop offset="0.286" stop-color="#390e01"/><stop offset="0.402" stop-color="#3a1001"/><stop offset="0.521" stop-color="#432609"/><stop offset="0.640" stop-color="#423416"/><stop offset="0.698" stop-color="#393a1e"/><stop offset="0.783" stop-color="#151d33"/><stop offset="0.857" stop-color="#07154c"/><stop offset="0.932" stop-color="#071c8d"/><stop offset="1.000" stop-color="#0a30d9"/></linearGradient>
<linearGradient id="gfr14" gradientUnits="userSpaceOnUse" x1="0" y1="122.0" x2="0" y2="185.0"><stop offset="0.000" stop-color="#3f0d00"/><stop offset="0.175" stop-color="#3f0d00"/><stop offset="0.286" stop-color="#410f00"/><stop offset="0.402" stop-color="#431100"/><stop offset="0.521" stop-color="#4d2908"/><stop offset="0.640" stop-color="#4d3919"/><stop offset="0.698" stop-color="#424120"/><stop offset="0.783" stop-color="#1a2138"/><stop offset="0.857" stop-color="#091950"/><stop offset="0.932" stop-color="#0822a9"/><stop offset="1.000" stop-color="#0a30d8"/></linearGradient>
<linearGradient id="gfr15" gradientUnits="userSpaceOnUse" x1="0" y1="122.0" x2="0" y2="185.0"><stop offset="0.000" stop-color="#430e00"/><stop offset="0.175" stop-color="#430e00"/><stop offset="0.286" stop-color="#450f00"/><stop offset="0.402" stop-color="#461100"/><stop offset="0.521" stop-color="#512807"/><stop offset="0.640" stop-color="#4f3819"/><stop offset="0.698" stop-color="#443f1f"/><stop offset="0.783" stop-color="#1d2236"/><stop offset="0.857" stop-color="#0b194c"/><stop offset="0.932" stop-color="#0924b4"/><stop offset="1.000" stop-color="#0a30d8"/></linearGradient>
<linearGradient id="gfr16" gradientUnits="userSpaceOnUse" x1="0" y1="122.0" x2="0" y2="185.0"><stop offset="0.000" stop-color="#3d0c00"/><stop offset="0.175" stop-color="#3d0c00"/><stop offset="0.286" stop-color="#3e0e00"/><stop offset="0.402" stop-color="#3f0f00"/><stop offset="0.521" stop-color="#482205"/><stop offset="0.640" stop-color="#452f15"/><stop offset="0.698" stop-color="#3b341a"/><stop offset="0.783" stop-color="#1c1d2c"/><stop offset="0.857" stop-color="#0c153d"/><stop offset="0.932" stop-color="#0821a5"/><stop offset="1.000" stop-color="#0a30d8"/></linearGradient>
<linearGradient id="gfr17" gradientUnits="userSpaceOnUse" x1="0" y1="122.0" x2="0" y2="185.0"><stop offset="0.000" stop-color="#3e0d00"/><stop offset="0.175" stop-color="#3e0d00"/><stop offset="0.286" stop-color="#3f0e00"/><stop offset="0.402" stop-color="#400e00"/><stop offset="0.521" stop-color="#482003"/><stop offset="0.640" stop-color="#442c14"/><stop offset="0.698" stop-color="#3a2f18"/><stop offset="0.783" stop-color="#1e1d27"/><stop offset="0.857" stop-color="#0d1436"/><stop offset="0.932" stop-color="#0822a9"/><stop offset="1.000" stop-color="#0a30d8"/></linearGradient>
<linearGradient id="gfr18" gradientUnits="userSpaceOnUse" x1="0" y1="122.0" x2="0" y2="185.0"><stop offset="0.000" stop-color="#380c00"/><stop offset="0.175" stop-color="#380c00"/><stop offset="0.286" stop-color="#390c00"/><stop offset="0.402" stop-color="#390c00"/><stop offset="0.521" stop-color="#401b02"/><stop offset="0.640" stop-color="#3c2411"/><stop offset="0.698" stop-color="#322613"/><stop offset="0.783" stop-color="#1d191e"/><stop offset="0.857" stop-color="#0e112a"/><stop offset="0.932" stop-color="#081f9b"/><stop offset="1.000" stop-color="#0a30d8"/></linearGradient>
<linearGradient id="gfr19" gradientUnits="userSpaceOnUse" x1="0" y1="122.0" x2="0" y2="185.0"><stop offset="0.000" stop-color="#360b00"/><stop offset="0.175" stop-color="#360b00"/><stop offset="0.286" stop-color="#360b00"/><stop offset="0.402" stop-color="#370b00"/><stop offset="0.521" stop-color="#3c1700"/><stop offset="0.640" stop-color="#371f0f"/><stop offset="0.698" stop-color="#2e2010"/><stop offset="0.783" stop-color="#1d1718"/><stop offset="0.857" stop-color="#0e0f21"/><stop offset="0.932" stop-color="#071e96"/><stop offset="1.000" stop-color="#0a30d8"/></linearGradient>
<linearGradient id="gfr20" gradientUnits="userSpaceOnUse" x1="0" y1="122.0" x2="0" y2="185.0"><stop offset="0.000" stop-color="#3b0d00"/><stop offset="0.175" stop-color="#3b0d00"/><stop offset="0.286" stop-color="#3b0e00"/><stop offset="0.402" stop-color="#3b0e00"/><stop offset="0.521" stop-color="#421c02"/><stop offset="0.640" stop-color="#3f2611"/><stop offset="0.698" stop-color="#352612"/><stop offset="0.783" stop-color="#221c1b"/><stop offset="0.857" stop-color="#111222"/><stop offset="0.932" stop-color="#081f9a"/><stop offset="1.000" stop-color="#0a31d9"/></linearGradient>
<linearGradient id="gfr21" gradientUnits="userSpaceOnUse" x1="0" y1="122.0" x2="0" y2="185.0"><stop offset="0.000" stop-color="#471200"/><stop offset="0.175" stop-color="#471200"/><stop offset="0.286" stop-color="#491300"/><stop offset="0.402" stop-color="#4a1400"/><stop offset="0.521" stop-color="#532706"/><stop offset="0.640" stop-color="#553816"/><stop offset="0.698" stop-color="#483819"/><stop offset="0.783" stop-color="#2c2724"/><stop offset="0.857" stop-color="#16192c"/><stop offset="0.932" stop-color="#0824b1"/><stop offset="1.000" stop-color="#0a31db"/></linearGradient>
<linearGradient id="gfr22" gradientUnits="userSpaceOnUse" x1="0" y1="122.0" x2="0" y2="185.0"><stop offset="0.000" stop-color="#551800"/><stop offset="0.175" stop-color="#551800"/><stop offset="0.286" stop-color="#581900"/><stop offset="0.402" stop-color="#591a00"/><stop offset="0.521" stop-color="#66340a"/><stop offset="0.640" stop-color="#6d4c1c"/><stop offset="0.698" stop-color="#5e4c21"/><stop offset="0.783" stop-color="#38342f"/><stop offset="0.857" stop-color="#1c2138"/><stop offset="0.932" stop-color="#0929c8"/><stop offset="1.000" stop-color="#0a32dc"/></linearGradient>
<linearGradient id="gfr23" gradientUnits="userSpaceOnUse" x1="0" y1="122.0" x2="0" y2="185.0"><stop offset="0.000" stop-color="#4a1600"/><stop offset="0.175" stop-color="#4a1600"/><stop offset="0.286" stop-color="#4c1700"/><stop offset="0.402" stop-color="#4e1800"/><stop offset="0.521" stop-color="#5a310b"/><stop offset="0.640" stop-color="#644819"/><stop offset="0.698" stop-color="#57481f"/><stop offset="0.783" stop-color="#32312b"/><stop offset="0.857" stop-color="#191f32"/><stop offset="0.932" stop-color="#0826b8"/><stop offset="1.000" stop-color="#0a33de"/></linearGradient>
<linearGradient id="gfr24" gradientUnits="userSpaceOnUse" x1="0" y1="122.0" x2="0" y2="185.0"><stop offset="0.000" stop-color="#551a00"/><stop offset="0.175" stop-color="#551a00"/><stop offset="0.286" stop-color="#581c00"/><stop offset="0.402" stop-color="#5a1e00"/><stop offset="0.521" stop-color="#693c0f"/><stop offset="0.640" stop-color="#785a1e"/><stop offset="0.698" stop-color="#695a25"/><stop offset="0.783" stop-color="#3c3c34"/><stop offset="0.857" stop-color="#1e253c"/><stop offset="0.932" stop-color="#0828bf"/><stop offset="1.000" stop-color="#0a34e0"/></linearGradient>
<linearGradient id="gfr25" gradientUnits="userSpaceOnUse" x1="0" y1="122.0" x2="0" y2="185.0"><stop offset="0.000" stop-color="#632203"/><stop offset="0.175" stop-color="#632203"/><stop offset="0.286" stop-color="#672403"/><stop offset="0.402" stop-color="#692603"/><stop offset="0.521" stop-color="#784510"/><stop offset="0.640" stop-color="#876420"/><stop offset="0.698" stop-color="#78662c"/><stop offset="0.783" stop-color="#4d4d42"/><stop offset="0.857" stop-color="#293751"/><stop offset="0.932" stop-color="#0a2dc6"/><stop offset="1.000" stop-color="#0a37e6"/></linearGradient>
<linearGradient id="gfr26" gradientUnits="userSpaceOnUse" x1="0" y1="122.0" x2="0" y2="185.0"><stop offset="0.000" stop-color="#8f3507"/><stop offset="0.175" stop-color="#8f3507"/><stop offset="0.286" stop-color="#933707"/><stop offset="0.402" stop-color="#963907"/><stop offset="0.521" stop-color="#a86115"/><stop offset="0.640" stop-color="#ba882b"/><stop offset="0.698" stop-color="#a88f3f"/><stop offset="0.783" stop-color="#767663"/><stop offset="0.857" stop-color="#415c81"/><stop offset="0.932" stop-color="#0b32cd"/><stop offset="1.000" stop-color="#0b3aed"/></linearGradient>
<linearGradient id="gfr27" gradientUnits="userSpaceOnUse" x1="0" y1="122.0" x2="0" y2="185.0"><stop offset="0.000" stop-color="#a7410b"/><stop offset="0.175" stop-color="#a7410b"/><stop offset="0.286" stop-color="#ab430b"/><stop offset="0.402" stop-color="#af460b"/><stop offset="0.521" stop-color="#c16f18"/><stop offset="0.640" stop-color="#d3992f"/><stop offset="0.698" stop-color="#c1a449"/><stop offset="0.783" stop-color="#919177"/><stop offset="0.857" stop-color="#5176a1"/><stop offset="0.932" stop-color="#0d37d4"/><stop offset="1.000" stop-color="#0b3ef3"/></linearGradient>
<linearGradient id="gfr28" gradientUnits="userSpaceOnUse" x1="0" y1="122.0" x2="0" y2="185.0"><stop offset="0.000" stop-color="#b0470e"/><stop offset="0.175" stop-color="#b0470e"/><stop offset="0.286" stop-color="#b5490e"/><stop offset="0.402" stop-color="#b84b0e"/><stop offset="0.521" stop-color="#c97418"/><stop offset="0.640" stop-color="#da9c2f"/><stop offset="0.698" stop-color="#c9aa4d"/><stop offset="0.783" stop-color="#9e9e81"/><stop offset="0.857" stop-color="#5a85b3"/><stop offset="0.932" stop-color="#0f3cdb"/><stop offset="1.000" stop-color="#0c41fa"/></linearGradient>
<linearGradient id="gfr29" gradientUnits="userSpaceOnUse" x1="0" y1="122.0" x2="0" y2="185.0"><stop offset="0.000" stop-color="#b64c10"/><stop offset="0.175" stop-color="#b64c10"/><stop offset="0.286" stop-color="#ba4f10"/><stop offset="0.402" stop-color="#be5111"/><stop offset="0.521" stop-color="#cd781a"/><stop offset="0.640" stop-color="#dca034"/><stop offset="0.698" stop-color="#cdaf55"/><stop offset="0.783" stop-color="#a7a98c"/><stop offset="0.857" stop-color="#5d8ebf"/><stop offset="0.932" stop-color="#1040e2"/><stop offset="1.000" stop-color="#0c44ff"/></linearGradient>
<linearGradient id="gfr30" gradientUnits="userSpaceOnUse" x1="0" y1="122.0" x2="0" y2="185.0"><stop offset="0.000" stop-color="#ce5a13"/><stop offset="0.175" stop-color="#ce5a13"/><stop offset="0.286" stop-color="#d25f14"/><stop offset="0.402" stop-color="#d66216"/><stop offset="0.521" stop-color="#e48e25"/><stop offset="0.640" stop-color="#f1ba4b"/><stop offset="0.698" stop-color="#e4ca76"/><stop offset="0.783" stop-color="#c0c9b2"/><stop offset="0.857" stop-color="#5e9ddb"/><stop offset="0.932" stop-color="#0f41e9"/><stop offset="1.000" stop-color="#0c44ff"/></linearGradient>
<linearGradient id="gfr31" gradientUnits="userSpaceOnUse" x1="0" y1="122.0" x2="0" y2="185.0"><stop offset="0.000" stop-color="#e96a17"/><stop offset="0.175" stop-color="#e96a17"/><stop offset="0.286" stop-color="#ee7119"/><stop offset="0.402" stop-color="#f2761b"/><stop offset="0.521" stop-color="#ffa733"/><stop offset="0.640" stop-color="#ffd866"/><stop offset="0.698" stop-color="#ffea9c"/><stop offset="0.783" stop-color="#dcefdf"/><stop offset="0.857" stop-color="#579de2"/><stop offset="0.932" stop-color="#0e42f1"/><stop offset="1.000" stop-color="#0c44ff"/></linearGradient>
<linearGradient id="gfr32" gradientUnits="userSpaceOnUse" x1="0" y1="122.0" x2="0" y2="185.0"><stop offset="0.000" stop-color="#cc6015"/><stop offset="0.175" stop-color="#cc6015"/><stop offset="0.286" stop-color="#d06817"/><stop offset="0.402" stop-color="#d46c1a"/><stop offset="0.521" stop-color="#dd9733"/><stop offset="0.640" stop-color="#e3c266"/><stop offset="0.698" stop-color="#ddd09b"/><stop offset="0.783" stop-color="#c3dad4"/><stop offset="0.857" stop-color="#53a3f2"/><stop offset="0.932" stop-color="#0d43f8"/><stop offset="1.000" stop-color="#0c44ff"/></linearGradient>
<linearGradient id="gfr33" gradientUnits="userSpaceOnUse" x1="0" y1="122.0" x2="0" y2="185.0"><stop offset="0.000" stop-color="#fc791a"/><stop offset="0.175" stop-color="#fc791a"/><stop offset="0.286" stop-color="#ff841e"/><stop offset="0.402" stop-color="#ff8b23"/><stop offset="0.521" stop-color="#ffbf45"/><stop offset="0.640" stop-color="#fff48b"/><stop offset="0.698" stop-color="#ffffd3"/><stop offset="0.783" stop-color="#f0ffff"/><stop offset="0.857" stop-color="#4ea5ff"/><stop offset="0.932" stop-color="#0c44ff"/><stop offset="1.000" stop-color="#0c44ff"/></linearGradient>
<linearGradient id="gfr34" gradientUnits="userSpaceOnUse" x1="0" y1="122.0" x2="0" y2="185.0"><stop offset="0.000" stop-color="#f47418"/><stop offset="0.175" stop-color="#f47418"/><stop offset="0.286" stop-color="#f87e1c"/><stop offset="0.402" stop-color="#fd8420"/><stop offset="0.521" stop-color="#ffb83f"/><stop offset="0.640" stop-color="#ffee84"/><stop offset="0.698" stop-color="#ffffde"/><stop offset="0.783" stop-color="#d1ffff"/><stop offset="0.857" stop-color="#3f8dff"/><stop offset="0.932" stop-color="#0c44ff"/><stop offset="1.000" stop-color="#0c44ff"/></linearGradient>
<linearGradient id="gfr35" gradientUnits="userSpaceOnUse" x1="0" y1="122.0" x2="0" y2="185.0"><stop offset="0.000" stop-color="#d66515"/><stop offset="0.175" stop-color="#d66515"/><stop offset="0.286" stop-color="#da6c18"/><stop offset="0.402" stop-color="#de721a"/><stop offset="0.521" stop-color="#eaa035"/><stop offset="0.640" stop-color="#f0d372"/><stop offset="0.698" stop-color="#e1e7d4"/><stop offset="0.783" stop-color="#a1dbf6"/><stop offset="0.857" stop-color="#2f74ff"/><stop offset="0.932" stop-color="#0c44ff"/><stop offset="1.000" stop-color="#0c44ff"/></linearGradient>
<linearGradient id="gfr36" gradientUnits="userSpaceOnUse" x1="0" y1="122.0" x2="0" y2="185.0"><stop offset="0.000" stop-color="#d36214"/><stop offset="0.175" stop-color="#d36214"/><stop offset="0.286" stop-color="#d76916"/><stop offset="0.402" stop-color="#db6e18"/><stop offset="0.521" stop-color="#e99d31"/><stop offset="0.640" stop-color="#f0d26e"/><stop offset="0.698" stop-color="#dce8e2"/><stop offset="0.783" stop-color="#89d0f7"/><stop offset="0.857" stop-color="#205cff"/><stop offset="0.932" stop-color="#0c44ff"/><stop offset="1.000" stop-color="#0c44ff"/></linearGradient>
<linearGradient id="gfr37" gradientUnits="userSpaceOnUse" x1="0" y1="122.0" x2="0" y2="185.0"><stop offset="0.000" stop-color="#cc5f13"/><stop offset="0.175" stop-color="#cc5f13"/><stop offset="0.286" stop-color="#d06415"/><stop offset="0.402" stop-color="#d46a17"/><stop offset="0.521" stop-color="#e3972d"/><stop offset="0.640" stop-color="#ebcc6a"/><stop offset="0.698" stop-color="#d4e3e3"/><stop offset="0.783" stop-color="#79c5f1"/><stop offset="0.857" stop-color="#1850ff"/><stop offset="0.932" stop-color="#0c44ff"/><stop offset="1.000" stop-color="#0c44ff"/></linearGradient>
<clipPath id="cp_fl"><path d="M536.60,141.50 L536.00,150.00 L535.60,165.00 L534.60,175.00 L533.80,183.00 L534.00,187.50 L538.00,189.00 L544.00,189.80 L548.50,189.00 L551.80,185.60 L555.60,179.60 L558.60,173.40 L560.50,167.40 L560.50,138.00 L553.00,134.00 L545.00,137.00 Z"/></clipPath>
<linearGradient id="gfl0" gradientUnits="userSpaceOnUse" x1="0" y1="130.0" x2="0" y2="189.0"><stop offset="0.000" stop-color="#802c04"/><stop offset="0.186" stop-color="#802c04"/><stop offset="0.293" stop-color="#903808"/><stop offset="0.420" stop-color="#b06018"/><stop offset="0.547" stop-color="#b88028"/><stop offset="0.590" stop-color="#b88030"/><stop offset="0.700" stop-color="#866b45"/><stop offset="0.812" stop-color="#304080"/><stop offset="0.907" stop-color="#1030a0"/><stop offset="0.963" stop-color="#092dc4"/><stop offset="1.000" stop-color="#0b3ef4"/></linearGradient>
<linearGradient id="gfl1" gradientUnits="userSpaceOnUse" x1="0" y1="130.0" x2="0" y2="189.0"><stop offset="0.000" stop-color="#802c04"/><stop offset="0.186" stop-color="#802c04"/><stop offset="0.293" stop-color="#903808"/><stop offset="0.420" stop-color="#b06018"/><stop offset="0.547" stop-color="#b88028"/><stop offset="0.590" stop-color="#b88030"/><stop offset="0.700" stop-color="#8e6e3f"/><stop offset="0.812" stop-color="#2f3e7a"/><stop offset="0.907" stop-color="#102f9c"/><stop offset="0.963" stop-color="#0827af"/><stop offset="1.000" stop-color="#0a34df"/></linearGradient>
<linearGradient id="gfl2" gradientUnits="userSpaceOnUse" x1="0" y1="130.0" x2="0" y2="189.0"><stop offset="0.000" stop-color="#802c04"/><stop offset="0.186" stop-color="#802c04"/><stop offset="0.293" stop-color="#903808"/><stop offset="0.420" stop-color="#b06018"/><stop offset="0.547" stop-color="#b88028"/><stop offset="0.590" stop-color="#b88030"/><stop offset="0.700" stop-color="#7a5f35"/><stop offset="0.812" stop-color="#2a2f4e"/><stop offset="0.907" stop-color="#0d257f"/><stop offset="0.963" stop-color="#0822a5"/><stop offset="1.000" stop-color="#0a31d5"/></linearGradient>
<linearGradient id="gfl3" gradientUnits="userSpaceOnUse" x1="0" y1="130.0" x2="0" y2="189.0"><stop offset="0.000" stop-color="#7d2a03"/><stop offset="0.186" stop-color="#7d2a03"/><stop offset="0.293" stop-color="#8c3607"/><stop offset="0.420" stop-color="#a55815"/><stop offset="0.547" stop-color="#aa7523"/><stop offset="0.590" stop-color="#a8732a"/><stop offset="0.700" stop-color="#66502b"/><stop offset="0.812" stop-color="#262636"/><stop offset="0.907" stop-color="#0c1e6a"/><stop offset="0.963" stop-color="#081f9d"/><stop offset="1.000" stop-color="#0a2fce"/></linearGradient>
<linearGradient id="gfl4" gradientUnits="userSpaceOnUse" x1="0" y1="130.0" x2="0" y2="189.0"><stop offset="0.000" stop-color="#762702"/><stop offset="0.186" stop-color="#762702"/><stop offset="0.293" stop-color="#833106"/><stop offset="0.420" stop-color="#90480e"/><stop offset="0.547" stop-color="#8d5e1a"/><stop offset="0.590" stop-color="#895a1d"/><stop offset="0.700" stop-color="#534022"/><stop offset="0.812" stop-color="#232333"/><stop offset="0.907" stop-color="#0b1b5d"/><stop offset="0.963" stop-color="#081e96"/><stop offset="1.000" stop-color="#0a2ecb"/></linearGradient>
<linearGradient id="gfl5" gradientUnits="userSpaceOnUse" x1="0" y1="130.0" x2="0" y2="189.0"><stop offset="0.000" stop-color="#702400"/><stop offset="0.186" stop-color="#702400"/><stop offset="0.293" stop-color="#7a2c04"/><stop offset="0.420" stop-color="#7a3808"/><stop offset="0.547" stop-color="#704810"/><stop offset="0.590" stop-color="#6a4010"/><stop offset="0.700" stop-color="#403018"/><stop offset="0.812" stop-color="#202030"/><stop offset="0.907" stop-color="#0a1850"/><stop offset="0.963" stop-color="#081c90"/><stop offset="1.000" stop-color="#0a2cc8"/></linearGradient>
<linearGradient id="gfl6" gradientUnits="userSpaceOnUse" x1="0" y1="130.0" x2="0" y2="189.0"><stop offset="0.000" stop-color="#691f00"/><stop offset="0.186" stop-color="#691f00"/><stop offset="0.293" stop-color="#732702"/><stop offset="0.420" stop-color="#6b2d04"/><stop offset="0.547" stop-color="#5b360c"/><stop offset="0.590" stop-color="#4e2c0b"/><stop offset="0.700" stop-color="#2e2211"/><stop offset="0.812" stop-color="#191925"/><stop offset="0.907" stop-color="#091342"/><stop offset="0.963" stop-color="#081c90"/><stop offset="1.000" stop-color="#0a2cc8"/></linearGradient>
<linearGradient id="gfl7" gradientUnits="userSpaceOnUse" x1="0" y1="130.0" x2="0" y2="189.0"><stop offset="0.000" stop-color="#621900"/><stop offset="0.186" stop-color="#621900"/><stop offset="0.293" stop-color="#6c2100"/><stop offset="0.420" stop-color="#5c2301"/><stop offset="0.547" stop-color="#452409"/><stop offset="0.590" stop-color="#311905"/><stop offset="0.700" stop-color="#1c140a"/><stop offset="0.812" stop-color="#12121b"/><stop offset="0.907" stop-color="#080d34"/><stop offset="0.963" stop-color="#081c90"/><stop offset="1.000" stop-color="#0a2cc8"/></linearGradient>
<linearGradient id="gfl8" gradientUnits="userSpaceOnUse" x1="0" y1="130.0" x2="0" y2="189.0"><stop offset="0.000" stop-color="#681c00"/><stop offset="0.186" stop-color="#681c00"/><stop offset="0.293" stop-color="#732401"/><stop offset="0.420" stop-color="#632904"/><stop offset="0.547" stop-color="#54310c"/><stop offset="0.590" stop-color="#44290c"/><stop offset="0.700" stop-color="#2c2111"/><stop offset="0.812" stop-color="#1b1a1a"/><stop offset="0.907" stop-color="#0c1134"/><stop offset="0.963" stop-color="#081d94"/><stop offset="1.000" stop-color="#0a2dca"/></linearGradient>
<linearGradient id="gfl9" gradientUnits="userSpaceOnUse" x1="0" y1="130.0" x2="0" y2="189.0"><stop offset="0.000" stop-color="#722200"/><stop offset="0.186" stop-color="#722200"/><stop offset="0.293" stop-color="#7e2a03"/><stop offset="0.420" stop-color="#71340a"/><stop offset="0.547" stop-color="#6f4912"/><stop offset="0.590" stop-color="#674416"/><stop offset="0.700" stop-color="#46391c"/><stop offset="0.812" stop-color="#29271d"/><stop offset="0.907" stop-color="#12193a"/><stop offset="0.963" stop-color="#081f9a"/><stop offset="1.000" stop-color="#0a2fcd"/></linearGradient>
<linearGradient id="gfl10" gradientUnits="userSpaceOnUse" x1="0" y1="130.0" x2="0" y2="189.0"><stop offset="0.000" stop-color="#7c2800"/><stop offset="0.186" stop-color="#7c2800"/><stop offset="0.293" stop-color="#8a3004"/><stop offset="0.420" stop-color="#804010"/><stop offset="0.547" stop-color="#8a6018"/><stop offset="0.590" stop-color="#8a6020"/><stop offset="0.700" stop-color="#605028"/><stop offset="0.812" stop-color="#383420"/><stop offset="0.907" stop-color="#182040"/><stop offset="0.963" stop-color="#0820a0"/><stop offset="1.000" stop-color="#0a30d0"/></linearGradient>
<linearGradient id="gfl11" gradientUnits="userSpaceOnUse" x1="0" y1="130.0" x2="0" y2="189.0"><stop offset="0.000" stop-color="#8c2e02"/><stop offset="0.186" stop-color="#8c2e02"/><stop offset="0.293" stop-color="#9b3907"/><stop offset="0.420" stop-color="#914d12"/><stop offset="0.547" stop-color="#9b6d1e"/><stop offset="0.590" stop-color="#986d24"/><stop offset="0.700" stop-color="#715f31"/><stop offset="0.812" stop-color="#454029"/><stop offset="0.907" stop-color="#1e2b4b"/><stop offset="0.963" stop-color="#0822a4"/><stop offset="1.000" stop-color="#0a31d4"/></linearGradient>
<linearGradient id="gfl12" gradientUnits="userSpaceOnUse" x1="0" y1="130.0" x2="0" y2="189.0"><stop offset="0.000" stop-color="#9c3504"/><stop offset="0.186" stop-color="#9c3504"/><stop offset="0.293" stop-color="#ab410a"/><stop offset="0.420" stop-color="#a25a14"/><stop offset="0.547" stop-color="#ab7a25"/><stop offset="0.590" stop-color="#a77a29"/><stop offset="0.700" stop-color="#826e39"/><stop offset="0.812" stop-color="#534b31"/><stop offset="0.907" stop-color="#253555"/><stop offset="0.963" stop-color="#0824a9"/><stop offset="1.000" stop-color="#0a32d9"/></linearGradient>
<linearGradient id="gfl13" gradientUnits="userSpaceOnUse" x1="0" y1="130.0" x2="0" y2="189.0"><stop offset="0.000" stop-color="#ac3b06"/><stop offset="0.186" stop-color="#ac3b06"/><stop offset="0.293" stop-color="#bc4a0e"/><stop offset="0.420" stop-color="#b36616"/><stop offset="0.547" stop-color="#bc862b"/><stop offset="0.590" stop-color="#b5862d"/><stop offset="0.700" stop-color="#937d42"/><stop offset="0.812" stop-color="#60573a"/><stop offset="0.907" stop-color="#2b4060"/><stop offset="0.963" stop-color="#0826ad"/><stop offset="1.000" stop-color="#0a33dd"/></linearGradient>
<linearGradient id="gfl14" gradientUnits="userSpaceOnUse" x1="0" y1="130.0" x2="0" y2="189.0"><stop offset="0.000" stop-color="#bb4209"/><stop offset="0.186" stop-color="#bb4209"/><stop offset="0.293" stop-color="#ca5210"/><stop offset="0.420" stop-color="#c37219"/><stop offset="0.547" stop-color="#ca9332"/><stop offset="0.590" stop-color="#c39332"/><stop offset="0.700" stop-color="#a48d4c"/><stop offset="0.812" stop-color="#706646"/><stop offset="0.907" stop-color="#354e6e"/><stop offset="0.963" stop-color="#092ab3"/><stop offset="1.000" stop-color="#0a35e2"/></linearGradient>
<linearGradient id="gfl15" gradientUnits="userSpaceOnUse" x1="0" y1="130.0" x2="0" y2="189.0"><stop offset="0.000" stop-color="#c54a0b"/><stop offset="0.186" stop-color="#c54a0b"/><stop offset="0.293" stop-color="#d35912"/><stop offset="0.420" stop-color="#cd791e"/><stop offset="0.547" stop-color="#d39d39"/><stop offset="0.590" stop-color="#cd9d39"/><stop offset="0.700" stop-color="#b6a05b"/><stop offset="0.812" stop-color="#867e5e"/><stop offset="0.907" stop-color="#4a6888"/><stop offset="0.963" stop-color="#0c31c1"/><stop offset="1.000" stop-color="#0b38e8"/></linearGradient>
<linearGradient id="gfl16" gradientUnits="userSpaceOnUse" x1="0" y1="130.0" x2="0" y2="189.0"><stop offset="0.000" stop-color="#cf520e"/><stop offset="0.186" stop-color="#cf520e"/><stop offset="0.293" stop-color="#db6014"/><stop offset="0.420" stop-color="#d78024"/><stop offset="0.547" stop-color="#dba740"/><stop offset="0.590" stop-color="#d7a740"/><stop offset="0.700" stop-color="#c7b36b"/><stop offset="0.812" stop-color="#9c9676"/><stop offset="0.907" stop-color="#5f82a2"/><stop offset="0.963" stop-color="#1038cf"/><stop offset="1.000" stop-color="#0b3cef"/></linearGradient>
<linearGradient id="gfl17" gradientUnits="userSpaceOnUse" x1="0" y1="130.0" x2="0" y2="189.0"><stop offset="0.000" stop-color="#da5910"/><stop offset="0.186" stop-color="#da5910"/><stop offset="0.293" stop-color="#e46616"/><stop offset="0.420" stop-color="#e28629"/><stop offset="0.547" stop-color="#e4b246"/><stop offset="0.590" stop-color="#e2b246"/><stop offset="0.700" stop-color="#d8c67b"/><stop offset="0.812" stop-color="#b2af8f"/><stop offset="0.907" stop-color="#739cbc"/><stop offset="0.963" stop-color="#133edd"/><stop offset="1.000" stop-color="#0b3ff6"/></linearGradient>
<linearGradient id="gfl18" gradientUnits="userSpaceOnUse" x1="0" y1="130.0" x2="0" y2="189.0"><stop offset="0.000" stop-color="#e46113"/><stop offset="0.186" stop-color="#e46113"/><stop offset="0.293" stop-color="#ed6d17"/><stop offset="0.420" stop-color="#ec8d2e"/><stop offset="0.547" stop-color="#edbc4d"/><stop offset="0.590" stop-color="#ecbc4d"/><stop offset="0.700" stop-color="#ead98a"/><stop offset="0.812" stop-color="#c8c7a7"/><stop offset="0.907" stop-color="#88b6d6"/><stop offset="0.963" stop-color="#1745eb"/><stop offset="1.000" stop-color="#0c43fc"/></linearGradient>
<linearGradient id="gfl19" gradientUnits="userSpaceOnUse" x1="0" y1="130.0" x2="0" y2="189.0"><stop offset="0.000" stop-color="#e46113"/><stop offset="0.186" stop-color="#e46113"/><stop offset="0.293" stop-color="#ed6d17"/><stop offset="0.420" stop-color="#f09232"/><stop offset="0.547" stop-color="#f1c456"/><stop offset="0.590" stop-color="#f2c456"/><stop offset="0.700" stop-color="#f2e49f"/><stop offset="0.812" stop-color="#d2d5bb"/><stop offset="0.907" stop-color="#83b5e4"/><stop offset="0.963" stop-color="#1647f2"/><stop offset="1.000" stop-color="#0c44ff"/></linearGradient>
<linearGradient id="gfl20" gradientUnits="userSpaceOnUse" x1="0" y1="130.0" x2="0" y2="189.0"><stop offset="0.000" stop-color="#de5d13"/><stop offset="0.186" stop-color="#de5d13"/><stop offset="0.293" stop-color="#e86815"/><stop offset="0.420" stop-color="#f09636"/><stop offset="0.547" stop-color="#f3cb61"/><stop offset="0.590" stop-color="#f4cb61"/><stop offset="0.700" stop-color="#f5ebb7"/><stop offset="0.812" stop-color="#d6decc"/><stop offset="0.907" stop-color="#6ea4eb"/><stop offset="0.963" stop-color="#1447f5"/><stop offset="1.000" stop-color="#0c44ff"/></linearGradient>
<linearGradient id="gfl21" gradientUnits="userSpaceOnUse" x1="0" y1="130.0" x2="0" y2="189.0"><stop offset="0.000" stop-color="#d85912"/><stop offset="0.186" stop-color="#d85912"/><stop offset="0.293" stop-color="#e26213"/><stop offset="0.420" stop-color="#f09939"/><stop offset="0.547" stop-color="#f5d26b"/><stop offset="0.590" stop-color="#f7d26b"/><stop offset="0.700" stop-color="#f9f2cf"/><stop offset="0.812" stop-color="#d9e7dd"/><stop offset="0.907" stop-color="#5a93f2"/><stop offset="0.963" stop-color="#1146f9"/><stop offset="1.000" stop-color="#0c44ff"/></linearGradient>
<linearGradient id="gfl22" gradientUnits="userSpaceOnUse" x1="0" y1="130.0" x2="0" y2="189.0"><stop offset="0.000" stop-color="#d25411"/><stop offset="0.186" stop-color="#d25411"/><stop offset="0.293" stop-color="#dd5d12"/><stop offset="0.420" stop-color="#f09d3d"/><stop offset="0.547" stop-color="#f6d976"/><stop offset="0.590" stop-color="#f9d976"/><stop offset="0.700" stop-color="#fcf8e7"/><stop offset="0.812" stop-color="#ddefee"/><stop offset="0.907" stop-color="#4581f8"/><stop offset="0.963" stop-color="#0f45fc"/><stop offset="1.000" stop-color="#0c44ff"/></linearGradient>
<linearGradient id="gfl23" gradientUnits="userSpaceOnUse" x1="0" y1="130.0" x2="0" y2="189.0"><stop offset="0.000" stop-color="#cc5010"/><stop offset="0.186" stop-color="#cc5010"/><stop offset="0.293" stop-color="#d85810"/><stop offset="0.420" stop-color="#f0a040"/><stop offset="0.547" stop-color="#f8e080"/><stop offset="0.590" stop-color="#fce080"/><stop offset="0.700" stop-color="#ffffff"/><stop offset="0.812" stop-color="#e0f8ff"/><stop offset="0.907" stop-color="#3070ff"/><stop offset="0.963" stop-color="#0c44ff"/><stop offset="1.000" stop-color="#0c44ff"/></linearGradient>
<linearGradient id="gfl24" gradientUnits="userSpaceOnUse" x1="0" y1="130.0" x2="0" y2="189.0"><stop offset="0.000" stop-color="#aa410a"/><stop offset="0.186" stop-color="#aa410a"/><stop offset="0.293" stop-color="#bd4f10"/><stop offset="0.420" stop-color="#d88b34"/><stop offset="0.547" stop-color="#e9cb6e"/><stop offset="0.590" stop-color="#f1d780"/><stop offset="0.700" stop-color="#edf3f3"/><stop offset="0.812" stop-color="#b5ddff"/><stop offset="0.907" stop-color="#225fff"/><stop offset="0.963" stop-color="#0c44ff"/><stop offset="1.000" stop-color="#0c44ff"/></linearGradient>
<linearGradient id="gfl25" gradientUnits="userSpaceOnUse" x1="0" y1="130.0" x2="0" y2="189.0"><stop offset="0.000" stop-color="#893204"/><stop offset="0.186" stop-color="#893204"/><stop offset="0.293" stop-color="#a14610"/><stop offset="0.420" stop-color="#bf7528"/><stop offset="0.547" stop-color="#dab55b"/><stop offset="0.590" stop-color="#e7ce80"/><stop offset="0.700" stop-color="#dbe7e7"/><stop offset="0.812" stop-color="#8bc1ff"/><stop offset="0.907" stop-color="#154eff"/><stop offset="0.963" stop-color="#0c44ff"/><stop offset="1.000" stop-color="#0c44ff"/></linearGradient>
<linearGradient id="gfl26" gradientUnits="userSpaceOnUse" x1="0" y1="130.0" x2="0" y2="189.0"><stop offset="0.000" stop-color="#802f03"/><stop offset="0.186" stop-color="#802f03"/><stop offset="0.293" stop-color="#994511"/><stop offset="0.420" stop-color="#b97025"/><stop offset="0.547" stop-color="#d6af56"/><stop offset="0.590" stop-color="#e3cd85"/><stop offset="0.700" stop-color="#cee0e3"/><stop offset="0.812" stop-color="#63a2ff"/><stop offset="0.907" stop-color="#0c44ff"/><stop offset="0.963" stop-color="#0c44ff"/><stop offset="1.000" stop-color="#0c44ff"/></linearGradient>
<linearGradient id="gfl27" gradientUnits="userSpaceOnUse" x1="0" y1="130.0" x2="0" y2="189.0"><stop offset="0.000" stop-color="#a0410a"/><stop offset="0.186" stop-color="#a0410a"/><stop offset="0.293" stop-color="#b25114"/><stop offset="0.420" stop-color="#d28531"/><stop offset="0.547" stop-color="#e5c165"/><stop offset="0.590" stop-color="#edd991"/><stop offset="0.700" stop-color="#c8e0ed"/><stop offset="0.812" stop-color="#427eff"/><stop offset="0.907" stop-color="#0c44ff"/><stop offset="0.963" stop-color="#0c44ff"/><stop offset="1.000" stop-color="#0c44ff"/></linearGradient>
<linearGradient id="gfl28" gradientUnits="userSpaceOnUse" x1="0" y1="130.0" x2="0" y2="189.0"><stop offset="0.000" stop-color="#c05312"/><stop offset="0.186" stop-color="#c05312"/><stop offset="0.293" stop-color="#ca5d17"/><stop offset="0.420" stop-color="#ea9b3d"/><stop offset="0.547" stop-color="#f4d374"/><stop offset="0.590" stop-color="#f6e59d"/><stop offset="0.700" stop-color="#c2e0f6"/><stop offset="0.812" stop-color="#2059ff"/><stop offset="0.907" stop-color="#0c44ff"/><stop offset="0.963" stop-color="#0c44ff"/><stop offset="1.000" stop-color="#0c44ff"/></linearGradient>
<linearGradient id="gfl29" gradientUnits="userSpaceOnUse" x1="0" y1="130.0" x2="0" y2="189.0"><stop offset="0.000" stop-color="#c55815"/><stop offset="0.186" stop-color="#c55815"/><stop offset="0.293" stop-color="#ce621a"/><stop offset="0.420" stop-color="#eea243"/><stop offset="0.547" stop-color="#f6da81"/><stop offset="0.590" stop-color="#f6eaac"/><stop offset="0.700" stop-color="#a8cbf6"/><stop offset="0.812" stop-color="#154dff"/><stop offset="0.907" stop-color="#0c44ff"/><stop offset="0.963" stop-color="#0c44ff"/><stop offset="1.000" stop-color="#0c44ff"/></linearGradient>
<linearGradient id="gfl30" gradientUnits="userSpaceOnUse" x1="0" y1="130.0" x2="0" y2="189.0"><stop offset="0.000" stop-color="#c05816"/><stop offset="0.186" stop-color="#c05816"/><stop offset="0.293" stop-color="#cc641c"/><stop offset="0.420" stop-color="#eca448"/><stop offset="0.547" stop-color="#f4dc8c"/><stop offset="0.590" stop-color="#f4ecbc"/><stop offset="0.700" stop-color="#88b0f4"/><stop offset="0.812" stop-color="#124aff"/><stop offset="0.907" stop-color="#0c44ff"/><stop offset="0.963" stop-color="#0c44ff"/><stop offset="1.000" stop-color="#0c44ff"/></linearGradient>
<linearGradient id="gfl31" gradientUnits="userSpaceOnUse" x1="0" y1="130.0" x2="0" y2="189.0"><stop offset="0.000" stop-color="#bb5817"/><stop offset="0.186" stop-color="#bb5817"/><stop offset="0.293" stop-color="#ca661e"/><stop offset="0.420" stop-color="#eaa64d"/><stop offset="0.547" stop-color="#f2de97"/><stop offset="0.590" stop-color="#f2eecc"/><stop offset="0.700" stop-color="#6895f2"/><stop offset="0.812" stop-color="#0f47ff"/><stop offset="0.907" stop-color="#0c44ff"/><stop offset="0.963" stop-color="#0c44ff"/><stop offset="1.000" stop-color="#0c44ff"/></linearGradient>
<linearGradient id="gfl32" gradientUnits="userSpaceOnUse" x1="0" y1="130.0" x2="0" y2="189.0"><stop offset="0.000" stop-color="#b85818"/><stop offset="0.186" stop-color="#b85818"/><stop offset="0.293" stop-color="#c86820"/><stop offset="0.420" stop-color="#e8a850"/><stop offset="0.547" stop-color="#f0e0a0"/><stop offset="0.590" stop-color="#f0f0d8"/><stop offset="0.700" stop-color="#4576f2"/><stop offset="0.812" stop-color="#0c44ff"/><stop offset="0.907" stop-color="#0c44ff"/><stop offset="0.963" stop-color="#0c44ff"/><stop offset="1.000" stop-color="#0c44ff"/></linearGradient>
<linearGradient id="gfl33" gradientUnits="userSpaceOnUse" x1="0" y1="130.0" x2="0" y2="189.0"><stop offset="0.000" stop-color="#b85818"/><stop offset="0.186" stop-color="#b85818"/><stop offset="0.293" stop-color="#c86820"/><stop offset="0.420" stop-color="#e8a850"/><stop offset="0.547" stop-color="#f0e0a0"/><stop offset="0.590" stop-color="#f0f0d8"/><stop offset="0.700" stop-color="#174efc"/><stop offset="0.812" stop-color="#0c44ff"/><stop offset="0.907" stop-color="#0c44ff"/><stop offset="0.963" stop-color="#0c44ff"/><stop offset="1.000" stop-color="#0c44ff"/></linearGradient>
<filter id="b05" x="-30%" y="-30%" width="160%" height="160%"><feGaussianBlur stdDeviation="0.35"/></filter>
<filter id="b0" x="-30%" y="-30%" width="160%" height="160%"><feGaussianBlur stdDeviation="0.35"/></filter>
</defs>
<rect width="685" height="281" fill="#fff"/>
<g id="panel-a" font-family="'Liberation Sans', Arial, Helvetica, sans-serif" fill="#111">
<text x="-1.4" y="14.1" font-size="19.5" font-weight="bold" fill="#000" class="lbl">a</text>
<path d="M56.10,113.40 L106.40,156.60 L157.10,178.10 L207.90,191.00 L258.30,199.50 L308.80,205.60 L359.50,210.00" fill="none" stroke="#0000ff" stroke-width="1.9" stroke-dasharray="4.4 3.3" stroke-dashoffset="0.45" clip-path="url(#axclip)"/>
<path d="M51.60,55.30 L56.30,70.30 L106.60,111.40 L157.10,145.40 L207.60,165.40 L257.90,178.30 L308.80,187.80 L359.50,194.50" fill="none" stroke="#000000" stroke-width="1.9" stroke-dasharray="4.4 3.3" stroke-dashoffset="4.1" clip-path="url(#axclip)"/>
<path d="M51.60,-6.00 L56.20,14.40 L107.10,89.70 L157.30,128.30 L207.60,151.20 L257.90,166.30 L308.80,177.40 L359.50,185.40" fill="none" stroke="#ff0000" stroke-width="1.9" stroke-dasharray="4.4 3.3" stroke-dashoffset="0.2" clip-path="url(#axclip)"/>
<path d="M56.10,108.40 l4.7,5.0 l-4.7,5.0 l-4.7,-5.0z" fill="#0000ff" clip-path="url(#axclip)"/>
<path d="M106.40,151.60 l4.7,5.0 l-4.7,5.0 l-4.7,-5.0z" fill="#0000ff" clip-path="url(#axclip)"/>
<path d="M157.10,173.10 l4.7,5.0 l-4.7,5.0 l-4.7,-5.0z" fill="#0000ff" clip-path="url(#axclip)"/>
<path d="M207.90,186.00 l4.7,5.0 l-4.7,5.0 l-4.7,-5.0z" fill="#0000ff" clip-path="url(#axclip)"/>
<path d="M258.30,194.50 l4.7,5.0 l-4.7,5.0 l-4.7,-5.0z" fill="#0000ff" clip-path="url(#axclip)"/>
<path d="M308.80,200.60 l4.7,5.0 l-4.7,5.0 l-4.7,-5.0z" fill="#0000ff" clip-path="url(#axclip)"/>
<path d="M359.50,205.00 l4.7,5.0 l-4.7,5.0 l-4.7,-5.0z" fill="#0000ff" clip-path="url(#axclip)"/>
<circle cx="56.30" cy="70.30" r="4.1" fill="#000" clip-path="url(#axclip)"/>
<circle cx="106.60" cy="111.40" r="4.1" fill="#000" clip-path="url(#axclip)"/>
<circle cx="157.10" cy="145.40" r="4.1" fill="#000" clip-path="url(#axclip)"/>
<circle cx="207.60" cy="165.40" r="4.1" fill="#000" clip-path="url(#axclip)"/>
<circle cx="257.90" cy="178.30" r="4.1" fill="#000" clip-path="url(#axclip)"/>
<circle cx="308.80" cy="187.80" r="4.1" fill="#000" clip-path="url(#axclip)"/>
<circle cx="359.50" cy="194.50" r="4.1" fill="#000" clip-path="url(#axclip)"/>
<rect x="52.50" y="10.70" width="7.4" height="7.4" fill="#ff0000" clip-path="url(#axclip)"/>
<rect x="103.40" y="86.00" width="7.4" height="7.4" fill="#ff0000" clip-path="url(#axclip)"/>
<rect x="153.60" y="124.60" width="7.4" height="7.4" fill="#ff0000" clip-path="url(#axclip)"/>
<rect x="203.90" y="147.50" width="7.4" height="7.4" fill="#ff0000" clip-path="url(#axclip)"/>
<rect x="254.20" y="162.60" width="7.4" height="7.4" fill="#ff0000" clip-path="url(#axclip)"/>
<rect x="305.10" y="173.70" width="7.4" height="7.4" fill="#ff0000" clip-path="url(#axclip)"/>
<rect x="355.80" y="181.70" width="7.4" height="7.4" fill="#ff0000" clip-path="url(#axclip)"/>
<path d="M56.20,242.80 v-3.8 M56.20,8.80 v3.8 M106.75,242.80 v-3.8 M106.75,8.80 v3.8 M157.30,242.80 v-3.8 M157.30,8.80 v3.8 M207.85,242.80 v-3.8 M207.85,8.80 v3.8 M258.40,242.80 v-3.8 M258.40,8.80 v3.8 M308.95,242.80 v-3.8 M308.95,8.80 v3.8 M359.50,242.80 v-3.8 M359.50,8.80 v3.8 M52.10,242.80 h3.8 M364.50,242.80 h-3.8 M52.10,214.90 h3.8 M364.50,214.90 h-3.8 M52.10,187.00 h3.8 M364.50,187.00 h-3.8 M52.10,159.10 h3.8 M364.50,159.10 h-3.8 M52.10,131.20 h3.8 M364.50,131.20 h-3.8 M52.10,103.30 h3.8 M364.50,103.30 h-3.8 M52.10,75.40 h3.8 M364.50,75.40 h-3.8 M52.10,47.50 h3.8 M364.50,47.50 h-3.8 M52.10,19.60 h3.8 M364.50,19.60 h-3.8" stroke="#000" stroke-width="0.9" fill="none"/>
<rect x="52.10" y="8.80" width="312.40" height="234.00" fill="none" stroke="#000" stroke-width="1.7"/>
<text x="55.80" y="259.1" font-size="13.3" text-anchor="middle">200</text>
<text x="106.35" y="259.1" font-size="13.3" text-anchor="middle">300</text>
<text x="156.90" y="259.1" font-size="13.3" text-anchor="middle">400</text>
<text x="207.45" y="259.1" font-size="13.3" text-anchor="middle">500</text>
<text x="258.00" y="259.1" font-size="13.3" text-anchor="middle">600</text>
<text x="308.55" y="259.1" font-size="13.3" text-anchor="middle">700</text>
<text x="359.10" y="259.1" font-size="13.3" text-anchor="middle">800</text>
<text x="45.7" y="247.50" font-size="13.3" text-anchor="end">0.0</text>
<text x="45.7" y="219.60" font-size="13.3" text-anchor="end">0.5</text>
<text x="45.7" y="191.70" font-size="13.3" text-anchor="end">1.0</text>
<text x="45.7" y="163.80" font-size="13.3" text-anchor="end">1.5</text>
<text x="45.7" y="135.90" font-size="13.3" text-anchor="end">2.0</text>
<text x="45.7" y="108.00" font-size="13.3" text-anchor="end">2.5</text>
<text x="45.7" y="80.10" font-size="13.3" text-anchor="end">3.0</text>
<text x="45.7" y="52.20" font-size="13.3" text-anchor="end">3.5</text>
<text x="45.7" y="24.30" font-size="13.3" text-anchor="end">4.0</text>
<text x="208.2" y="278.3" font-size="13.5" text-anchor="middle">Temperature (K)</text>
<text transform="translate(12.4,125.5) rotate(-90)" font-size="13.5" text-anchor="middle"><tspan font-style="italic" font-family="'Liberation Serif', serif" font-size="14">κ</tspan><tspan font-size="9.4" dy="3.2">L</tspan><tspan dy="-3.2"> (Wm</tspan><tspan font-size="9.2" dy="-5.2">−1</tspan><tspan dy="5.2"> K</tspan><tspan font-size="9.2" dy="-5.2">−1</tspan><tspan dy="5.2">)</tspan></text>
<rect x="242.8" y="29.2" width="79.1" height="61.9" rx="2.4" fill="#888"/>
<rect x="241.6" y="28.0" width="79.1" height="61.9" rx="2.4" fill="#fff" stroke="#333" stroke-width="0.8"/>
<path d="M244.2,38.70 H269.2" stroke="#000000" stroke-width="1.9" stroke-dasharray="3.6 3.4" fill="none"/>
<circle cx="256.70" cy="38.70" r="4.1" fill="#000000"/>
<path d="M244.2,60.90 H269.2" stroke="#0000ff" stroke-width="1.9" stroke-dasharray="3.6 3.4" fill="none"/>
<path d="M256.70,55.90 l4.7,5.0 l-4.7,5.0 l-4.7,-5.0z" fill="#0000ff"/>
<path d="M244.2,82.90 H269.2" stroke="#ff0000" stroke-width="1.9" stroke-dasharray="3.6 3.4" fill="none"/>
<rect x="253.00" y="79.20" width="7.4" height="7.4" fill="#ff0000"/>
<text x="276.4" y="42.7" font-size="11.3">Li<tspan font-size="8.2" dy="3.6">2</tspan><tspan dy="-3.6">TlBi</tspan></text>
<text x="276.4" y="64.9" font-size="11.3">Li<tspan font-size="8.2" dy="3.6">2</tspan><tspan dy="-3.6">InBi</tspan></text>
<text x="276.4" y="86.9" font-size="11.3">PbTe</text>
</g>
<g id="panel-b" font-family="'Liberation Sans', Arial, Helvetica, sans-serif" fill="#111">
<text x="388.6" y="14.2" font-size="19.5" font-weight="bold" fill="#000" class="lbl">b</text>
<polygon points="416.00,175.00 579.60,262.10 661.00,128.50 503.40,57.40" fill="#000" opacity="0.44" filter="url(#shadowblur)"/>
<polygon points="431.00,182.00 582.60,252.10 677.50,120.00 503.40,57.40" fill="#000" opacity="0.26" filter="url(#shadowblur2)"/>
<polygon points="411.00,162.00 580.60,250.10 673.00,115.50 503.40,27.40" fill="#e7e7e7"/>
<polygon points="411.00,162.00 580.60,250.10 673.00,115.50 503.40,27.40" fill="url(#gfl)"/>
<polygon points="411.00,162.00 580.60,250.10 673.00,115.50 503.40,27.40" fill="url(#gfr)"/>
<polygon points="427.70,94.30 520.10,7.00 521.10,50.00 434.70,138.80" fill="url(#gwl)"/>
<polygon points="520.10,7.00 654.10,57.30 648.10,101.80 521.10,50.00" fill="url(#gwr)"/>
<polygon points="434.70,138.80 521.10,50.00 648.10,101.80 572.70,206.80" fill="#0c44ff"/>
<g filter="url(#b1)"><path d="M509.6,68.6 L506.6,71 L506.4,75.4 L512,76 Z" fill="#0820a8" opacity="0.8"/></g>
<g filter="url(#b05)"><g clip-path="url(#cp_sm)">
<rect x="506.85" y="53.5" width="1.00" height="23.5" fill="url(#gsm0)"/>
<rect x="507.55" y="53.5" width="1.00" height="23.5" fill="url(#gsm1)"/>
<rect x="508.25" y="53.5" width="1.00" height="23.5" fill="url(#gsm2)"/>
<rect x="508.95" y="53.5" width="1.00" height="23.5" fill="url(#gsm3)"/>
<rect x="509.65" y="53.5" width="1.00" height="23.5" fill="url(#gsm4)"/>
<rect x="510.35" y="53.5" width="1.00" height="23.5" fill="url(#gsm5)"/>
<rect x="511.05" y="53.5" width="1.00" height="23.5" fill="url(#gsm6)"/>
<rect x="511.75" y="53.5" width="1.00" height="23.5" fill="url(#gsm7)"/>
<rect x="512.45" y="53.5" width="1.00" height="23.5" fill="url(#gsm8)"/>
<rect x="513.15" y="53.5" width="1.00" height="23.5" fill="url(#gsm9)"/>
<rect x="513.85" y="53.5" width="1.00" height="23.5" fill="url(#gsm10)"/>
<rect x="514.55" y="53.5" width="1.00" height="23.5" fill="url(#gsm11)"/>
<rect x="515.25" y="53.5" width="1.00" height="23.5" fill="url(#gsm12)"/>
<rect x="515.95" y="53.5" width="1.00" height="23.5" fill="url(#gsm13)"/>
<rect x="516.65" y="53.5" width="1.00" height="23.5" fill="url(#gsm14)"/>
<rect x="517.35" y="53.5" width="1.00" height="23.5" fill="url(#gsm15)"/>
<rect x="518.05" y="53.5" width="1.00" height="23.5" fill="url(#gsm16)"/>
<rect x="518.75" y="53.5" width="1.00" height="23.5" fill="url(#gsm17)"/>
<rect x="519.45" y="53.5" width="1.00" height="23.5" fill="url(#gsm18)"/>
<rect x="520.15" y="53.5" width="1.00" height="23.5" fill="url(#gsm19)"/>
<rect x="520.85" y="53.5" width="1.00" height="23.5" fill="url(#gsm20)"/>
<rect x="521.55" y="53.5" width="1.00" height="23.5" fill="url(#gsm21)"/>
<rect x="522.25" y="53.5" width="1.00" height="23.5" fill="url(#gsm22)"/>
<rect x="522.95" y="53.5" width="1.00" height="23.5" fill="url(#gsm23)"/>
</g></g>
<g filter="url(#b2)"><path d="M529.5,64 L526.5,72 L536,77 L546,76 L547,70 Z" fill="#0828c0" opacity="0.7"/></g>
<g filter="url(#b05)"><g clip-path="url(#cp_bp)">
<rect x="526.85" y="24.0" width="1.10" height="52.0" fill="url(#gbp0)"/>
<rect x="527.65" y="24.0" width="1.10" height="52.0" fill="url(#gbp1)"/>
<rect x="528.45" y="24.0" width="1.10" height="52.0" fill="url(#gbp2)"/>
<rect x="529.25" y="24.0" width="1.10" height="52.0" fill="url(#gbp3)"/>
<rect x="530.05" y="24.0" width="1.10" height="52.0" fill="url(#gbp4)"/>
<rect x="530.85" y="24.0" width="1.10" height="52.0" fill="url(#gbp5)"/>
<rect x="531.65" y="24.0" width="1.10" height="52.0" fill="url(#gbp6)"/>
<rect x="532.45" y="24.0" width="1.10" height="52.0" fill="url(#gbp7)"/>
<rect x="533.25" y="24.0" width="1.10" height="52.0" fill="url(#gbp8)"/>
<rect x="534.05" y="24.0" width="1.10" height="52.0" fill="url(#gbp9)"/>
<rect x="534.85" y="24.0" width="1.10" height="52.0" fill="url(#gbp10)"/>
<rect x="535.65" y="24.0" width="1.10" height="52.0" fill="url(#gbp11)"/>
<rect x="536.45" y="24.0" width="1.10" height="52.0" fill="url(#gbp12)"/>
<rect x="537.25" y="24.0" width="1.10" height="52.0" fill="url(#gbp13)"/>
<rect x="538.05" y="24.0" width="1.10" height="52.0" fill="url(#gbp14)"/>
<rect x="538.85" y="24.0" width="1.10" height="52.0" fill="url(#gbp15)"/>
<rect x="539.65" y="24.0" width="1.10" height="52.0" fill="url(#gbp16)"/>
<rect x="540.45" y="24.0" width="1.10" height="52.0" fill="url(#gbp17)"/>
<rect x="541.25" y="24.0" width="1.10" height="52.0" fill="url(#gbp18)"/>
<rect x="542.05" y="24.0" width="1.10" height="52.0" fill="url(#gbp19)"/>
<rect x="542.85" y="24.0" width="1.10" height="52.0" fill="url(#gbp20)"/>
<rect x="543.65" y="24.0" width="1.10" height="52.0" fill="url(#gbp21)"/>
<rect x="544.45" y="24.0" width="1.10" height="52.0" fill="url(#gbp22)"/>
<rect x="545.25" y="24.0" width="1.10" height="52.0" fill="url(#gbp23)"/>
<rect x="546.05" y="24.0" width="1.10" height="52.0" fill="url(#gbp24)"/>
<rect x="546.85" y="24.0" width="1.10" height="52.0" fill="url(#gbp25)"/>
</g></g>
<g filter="url(#b2)"><path d="M612.5,93 L622,113 L627,118.5 L632,119 L626,108 Z" fill="#0828c0" opacity="0.7"/></g>
<g filter="url(#b05)"><g clip-path="url(#cp_rp)">
<rect x="611.85" y="46.0" width="1.10" height="74.0" fill="url(#grp0)"/>
<rect x="612.65" y="46.0" width="1.10" height="74.0" fill="url(#grp1)"/>
<rect x="613.45" y="46.0" width="1.10" height="74.0" fill="url(#grp2)"/>
<rect x="614.25" y="46.0" width="1.10" height="74.0" fill="url(#grp3)"/>
<rect x="615.05" y="46.0" width="1.10" height="74.0" fill="url(#grp4)"/>
<rect x="615.85" y="46.0" width="1.10" height="74.0" fill="url(#grp5)"/>
<rect x="616.65" y="46.0" width="1.10" height="74.0" fill="url(#grp6)"/>
<rect x="617.45" y="46.0" width="1.10" height="74.0" fill="url(#grp7)"/>
<rect x="618.25" y="46.0" width="1.10" height="74.0" fill="url(#grp8)"/>
<rect x="619.05" y="46.0" width="1.10" height="74.0" fill="url(#grp9)"/>
<rect x="619.85" y="46.0" width="1.10" height="74.0" fill="url(#grp10)"/>
<rect x="620.65" y="46.0" width="1.10" height="74.0" fill="url(#grp11)"/>
<rect x="621.45" y="46.0" width="1.10" height="74.0" fill="url(#grp12)"/>
<rect x="622.25" y="46.0" width="1.10" height="74.0" fill="url(#grp13)"/>
<rect x="623.05" y="46.0" width="1.10" height="74.0" fill="url(#grp14)"/>
<rect x="623.85" y="46.0" width="1.10" height="74.0" fill="url(#grp15)"/>
<rect x="624.65" y="46.0" width="1.10" height="74.0" fill="url(#grp16)"/>
<rect x="625.45" y="46.0" width="1.10" height="74.0" fill="url(#grp17)"/>
<rect x="626.25" y="46.0" width="1.10" height="74.0" fill="url(#grp18)"/>
<rect x="627.05" y="46.0" width="1.10" height="74.0" fill="url(#grp19)"/>
<rect x="627.85" y="46.0" width="1.10" height="74.0" fill="url(#grp20)"/>
<rect x="628.65" y="46.0" width="1.10" height="74.0" fill="url(#grp21)"/>
<rect x="629.45" y="46.0" width="1.10" height="74.0" fill="url(#grp22)"/>
<rect x="630.25" y="46.0" width="1.10" height="74.0" fill="url(#grp23)"/>
<rect x="631.05" y="46.0" width="1.10" height="74.0" fill="url(#grp24)"/>
<rect x="631.85" y="46.0" width="1.10" height="74.0" fill="url(#grp25)"/>
<rect x="632.65" y="46.0" width="1.10" height="74.0" fill="url(#grp26)"/>
<rect x="633.45" y="46.0" width="1.10" height="74.0" fill="url(#grp27)"/>
<rect x="634.25" y="46.0" width="1.10" height="74.0" fill="url(#grp28)"/>
<rect x="635.05" y="46.0" width="1.10" height="74.0" fill="url(#grp29)"/>
<rect x="635.85" y="46.0" width="1.10" height="74.0" fill="url(#grp30)"/>
<rect x="636.65" y="46.0" width="1.10" height="74.0" fill="url(#grp31)"/>
<rect x="637.45" y="46.0" width="1.10" height="74.0" fill="url(#grp32)"/>
<rect x="638.25" y="46.0" width="1.10" height="74.0" fill="url(#grp33)"/>
<rect x="639.05" y="46.0" width="1.10" height="74.0" fill="url(#grp34)"/>
<rect x="639.85" y="46.0" width="1.10" height="74.0" fill="url(#grp35)"/>
<rect x="640.65" y="46.0" width="1.10" height="74.0" fill="url(#grp36)"/>
<rect x="641.45" y="46.0" width="1.10" height="74.0" fill="url(#grp37)"/>
<rect x="642.25" y="46.0" width="1.10" height="74.0" fill="url(#grp38)"/>
</g></g>
<path d="M521.10,50.00 L572.70,206.80" stroke="#fff" stroke-width="0.65" opacity="0.75"/>
<g filter="url(#b1)"><path d="M452,126 L449.6,130 L449.2,142 L451.5,142 Z" fill="#0828b0" opacity="0.8"/></g>
<g filter="url(#b05)"><g clip-path="url(#cp_sp)">
<rect x="449.85" y="88.0" width="1.00" height="54.0" fill="url(#gsp0)"/>
<rect x="450.55" y="88.0" width="1.00" height="54.0" fill="url(#gsp1)"/>
<rect x="451.25" y="88.0" width="1.00" height="54.0" fill="url(#gsp2)"/>
<rect x="451.95" y="88.0" width="1.00" height="54.0" fill="url(#gsp3)"/>
<rect x="452.65" y="88.0" width="1.00" height="54.0" fill="url(#gsp4)"/>
<rect x="453.35" y="88.0" width="1.00" height="54.0" fill="url(#gsp5)"/>
<rect x="454.05" y="88.0" width="1.00" height="54.0" fill="url(#gsp6)"/>
<rect x="454.75" y="88.0" width="1.00" height="54.0" fill="url(#gsp7)"/>
<rect x="455.45" y="88.0" width="1.00" height="54.0" fill="url(#gsp8)"/>
<rect x="456.15" y="88.0" width="1.00" height="54.0" fill="url(#gsp9)"/>
<rect x="456.85" y="88.0" width="1.00" height="54.0" fill="url(#gsp10)"/>
<rect x="457.55" y="88.0" width="1.00" height="54.0" fill="url(#gsp11)"/>
<rect x="458.25" y="88.0" width="1.00" height="54.0" fill="url(#gsp12)"/>
<rect x="458.95" y="88.0" width="1.00" height="54.0" fill="url(#gsp13)"/>
<rect x="459.65" y="88.0" width="1.00" height="54.0" fill="url(#gsp14)"/>
<rect x="460.35" y="88.0" width="1.00" height="54.0" fill="url(#gsp15)"/>
<rect x="461.05" y="88.0" width="1.00" height="54.0" fill="url(#gsp16)"/>
<rect x="461.75" y="88.0" width="1.00" height="54.0" fill="url(#gsp17)"/>
<rect x="462.45" y="88.0" width="1.00" height="54.0" fill="url(#gsp18)"/>
</g></g>
<circle cx="452.75" cy="90.3" r="0.7" fill="#fff" opacity="0.7"/>
<g filter="url(#b2)">
<path d="M534,178 L532.5,186 L540,190.5 L550,191.5 L556,186 L560,178 Z" fill="#0828c0" opacity="0.8"/>
<path d="M562,170 L564,181 L570,186 L583,187 L589,180 L591,172 Z" fill="#0828c0" opacity="0.8"/>
</g>
<g filter="url(#b05)"><g clip-path="url(#cp_fr)">
<rect x="560.65" y="121.0" width="1.10" height="65.0" fill="url(#gfr0)"/>
<rect x="561.45" y="121.0" width="1.10" height="65.0" fill="url(#gfr1)"/>
<rect x="562.25" y="121.0" width="1.10" height="65.0" fill="url(#gfr2)"/>
<rect x="563.05" y="121.0" width="1.10" height="65.0" fill="url(#gfr3)"/>
<rect x="563.85" y="121.0" width="1.10" height="65.0" fill="url(#gfr4)"/>
<rect x="564.65" y="121.0" width="1.10" height="65.0" fill="url(#gfr5)"/>
<rect x="565.45" y="121.0" width="1.10" height="65.0" fill="url(#gfr6)"/>
<rect x="566.25" y="121.0" width="1.10" height="65.0" fill="url(#gfr7)"/>
<rect x="567.05" y="121.0" width="1.10" height="65.0" fill="url(#gfr8)"/>
<rect x="567.85" y="121.0" width="1.10" height="65.0" fill="url(#gfr9)"/>
<rect x="568.65" y="121.0" width="1.10" height="65.0" fill="url(#gfr10)"/>
<rect x="569.45" y="121.0" width="1.10" height="65.0" fill="url(#gfr11)"/>
<rect x="570.25" y="121.0" width="1.10" height="65.0" fill="url(#gfr12)"/>
<rect x="571.05" y="121.0" width="1.10" height="65.0" fill="url(#gfr13)"/>
<rect x="571.85" y="121.0" width="1.10" height="65.0" fill="url(#gfr14)"/>
<rect x="572.65" y="121.0" width="1.10" height="65.0" fill="url(#gfr15)"/>
<rect x="573.45" y="121.0" width="1.10" height="65.0" fill="url(#gfr16)"/>
<rect x="574.25" y="121.0" width="1.10" height="65.0" fill="url(#gfr17)"/>
<rect x="575.05" y="121.0" width="1.10" height="65.0" fill="url(#gfr18)"/>
<rect x="575.85" y="121.0" width="1.10" height="65.0" fill="url(#gfr19)"/>
<rect x="576.65" y="121.0" width="1.10" height="65.0" fill="url(#gfr20)"/>
<rect x="577.45" y="121.0" width="1.10" height="65.0" fill="url(#gfr21)"/>
<rect x="578.25" y="121.0" width="1.10" height="65.0" fill="url(#gfr22)"/>
<rect x="579.05" y="121.0" width="1.10" height="65.0" fill="url(#gfr23)"/>
<rect x="579.85" y="121.0" width="1.10" height="65.0" fill="url(#gfr24)"/>
<rect x="580.65" y="121.0" width="1.10" height="65.0" fill="url(#gfr25)"/>
<rect x="581.45" y="121.0" width="1.10" height="65.0" fill="url(#gfr26)"/>
<rect x="582.25" y="121.0" width="1.10" height="65.0" fill="url(#gfr27)"/>
<rect x="583.05" y="121.0" width="1.10" height="65.0" fill="url(#gfr28)"/>
<rect x="583.85" y="121.0" width="1.10" height="65.0" fill="url(#gfr29)"/>
<rect x="584.65" y="121.0" width="1.10" height="65.0" fill="url(#gfr30)"/>
<rect x="585.45" y="121.0" width="1.10" height="65.0" fill="url(#gfr31)"/>
<rect x="586.25" y="121.0" width="1.10" height="65.0" fill="url(#gfr32)"/>
<rect x="587.05" y="121.0" width="1.10" height="65.0" fill="url(#gfr33)"/>
<rect x="587.85" y="121.0" width="1.10" height="65.0" fill="url(#gfr34)"/>
<rect x="588.65" y="121.0" width="1.10" height="65.0" fill="url(#gfr35)"/>
<rect x="589.45" y="121.0" width="1.10" height="65.0" fill="url(#gfr36)"/>
<rect x="590.25" y="121.0" width="1.10" height="65.0" fill="url(#gfr37)"/>
</g></g>
<g filter="url(#b05)"><g clip-path="url(#cp_fl)">
<rect x="533.45" y="129.0" width="1.10" height="61.0" fill="url(#gfl0)"/>
<rect x="534.25" y="129.0" width="1.10" height="61.0" fill="url(#gfl1)"/>
<rect x="535.05" y="129.0" width="1.10" height="61.0" fill="url(#gfl2)"/>
<rect x="535.85" y="129.0" width="1.10" height="61.0" fill="url(#gfl3)"/>
<rect x="536.65" y="129.0" width="1.10" height="61.0" fill="url(#gfl4)"/>
<rect x="537.45" y="129.0" width="1.10" height="61.0" fill="url(#gfl5)"/>
<rect x="538.25" y="129.0" width="1.10" height="61.0" fill="url(#gfl6)"/>
<rect x="539.05" y="129.0" width="1.10" height="61.0" fill="url(#gfl7)"/>
<rect x="539.85" y="129.0" width="1.10" height="61.0" fill="url(#gfl8)"/>
<rect x="540.65" y="129.0" width="1.10" height="61.0" fill="url(#gfl9)"/>
<rect x="541.45" y="129.0" width="1.10" height="61.0" fill="url(#gfl10)"/>
<rect x="542.25" y="129.0" width="1.10" height="61.0" fill="url(#gfl11)"/>
<rect x="543.05" y="129.0" width="1.10" height="61.0" fill="url(#gfl12)"/>
<rect x="543.85" y="129.0" width="1.10" height="61.0" fill="url(#gfl13)"/>
<rect x="544.65" y="129.0" width="1.10" height="61.0" fill="url(#gfl14)"/>
<rect x="545.45" y="129.0" width="1.10" height="61.0" fill="url(#gfl15)"/>
<rect x="546.25" y="129.0" width="1.10" height="61.0" fill="url(#gfl16)"/>
<rect x="547.05" y="129.0" width="1.10" height="61.0" fill="url(#gfl17)"/>
<rect x="547.85" y="129.0" width="1.10" height="61.0" fill="url(#gfl18)"/>
<rect x="548.65" y="129.0" width="1.10" height="61.0" fill="url(#gfl19)"/>
<rect x="549.45" y="129.0" width="1.10" height="61.0" fill="url(#gfl20)"/>
<rect x="550.25" y="129.0" width="1.10" height="61.0" fill="url(#gfl21)"/>
<rect x="551.05" y="129.0" width="1.10" height="61.0" fill="url(#gfl22)"/>
<rect x="551.85" y="129.0" width="1.10" height="61.0" fill="url(#gfl23)"/>
<rect x="552.65" y="129.0" width="1.10" height="61.0" fill="url(#gfl24)"/>
<rect x="553.45" y="129.0" width="1.10" height="61.0" fill="url(#gfl25)"/>
<rect x="554.25" y="129.0" width="1.10" height="61.0" fill="url(#gfl26)"/>
<rect x="555.05" y="129.0" width="1.10" height="61.0" fill="url(#gfl27)"/>
<rect x="555.85" y="129.0" width="1.10" height="61.0" fill="url(#gfl28)"/>
<rect x="556.65" y="129.0" width="1.10" height="61.0" fill="url(#gfl29)"/>
<rect x="557.45" y="129.0" width="1.10" height="61.0" fill="url(#gfl30)"/>
<rect x="558.25" y="129.0" width="1.10" height="61.0" fill="url(#gfl31)"/>
<rect x="559.05" y="129.0" width="1.10" height="61.0" fill="url(#gfl32)"/>
<rect x="559.85" y="129.0" width="1.10" height="61.0" fill="url(#gfl33)"/>
</g></g>
<path d="M559.9,168.2 L572.7,206.8" stroke="#fff" stroke-width="0.55" opacity="0.8"/>
<g filter="url(#b0)">
<path d="M562.70,119.30 L564.20,118.20 L566.40,118.00 L570.00,118.60 L573.00,118.80 L575.60,119.00 L577.60,120.20 L580.00,122.40 L582.60,124.40 L585.40,126.00 L587.60,127.60 L589.60,129.60 L590.40,131.60 L590.20,133.60 L588.60,135.20 L586.80,136.60 L586.00,138.60 L585.20,140.40 L583.00,141.40 L580.60,141.00 L578.40,139.60 L576.40,137.60 L574.00,135.60 L571.20,133.60 L568.20,131.60 L565.60,129.40 L564.00,126.80 L563.00,124.00 L562.60,121.20 Z" fill="#fff" />
<path d="M552.00,123.30 L554.40,124.20 L555.90,126.20 L556.00,129.00 L556.00,131.40 L558.40,133.60 L559.90,135.60 L559.80,138.00 L558.60,139.20 L555.50,139.80 L553.20,140.60 L551.60,142.20 L549.50,144.00 L546.00,145.40 L542.60,145.70 L539.60,144.60 L537.40,142.80 L536.50,140.60 L536.90,138.00 L538.30,135.60 L539.30,133.60 L539.60,131.00 L541.00,128.80 L543.60,127.60 L546.60,127.00 L547.80,125.40 L549.60,123.80 Z" fill="#fff" />
</g>
<path d="M435.60,138.20 L572.55,205.35 L647.30,101.40" stroke="#f4f4ff" stroke-width="0.7" fill="none" opacity="0.8"/>
<g stroke="#111" fill="none" stroke-width="1.1">
<path d="M434.70,138.80 L572.70,206.80"/>
<path d="M572.70,206.80 L648.10,101.80" stroke-width="1.0" stroke="#222"/>
<path d="M434.70,138.80 L427.70,94.30" stroke-width="1.0"/>
<path d="M427.70,94.30 L520.10,7.00"/>
<path d="M444.25,143.51 l1.2,-1.9 M453.80,148.21 l1.2,-1.9 M463.35,152.92 l1.2,-1.9 M472.90,157.62 l1.2,-1.9 M482.45,162.33 l1.2,-1.9 M492.00,167.03 l1.2,-1.9 M501.55,171.74 l1.2,-1.9 M511.10,176.45 l1.2,-1.9 M520.65,181.15 l1.2,-1.9 M530.20,185.86 l1.2,-1.9 M539.75,190.56 l1.2,-1.9 M549.30,195.27 l1.2,-1.9 M558.85,199.98 l1.2,-1.9 M568.40,204.68 l1.2,-1.9 M434.70,138.80 l1.7,-0.15 M434.00,134.35 l1.7,-0.15 M433.30,129.90 l1.7,-0.15 M432.60,125.45 l1.7,-0.15 M431.90,121.00 l1.7,-0.15 M431.20,116.55 l1.7,-0.15 M430.50,112.10 l1.7,-0.15 M429.80,107.65 l1.7,-0.15 M429.10,103.20 l1.7,-0.15 M428.40,98.75 l1.7,-0.15 M427.70,94.30 l1.7,-0.15 M436.20,86.27 l1.5,1.3 M443.90,78.99 l1.5,1.3 M450.90,72.38 l1.5,1.3 M458.40,65.29 l1.5,1.3 M465.40,58.68 l1.5,1.3 M472.40,52.07 l1.5,1.3 M479.40,45.45 l1.5,1.3 M485.60,39.60 l1.5,1.3 M491.10,34.40 l1.5,1.3 M497.60,28.26 l1.5,1.3 M503.80,22.40 l1.5,1.3 M510.10,16.45 l1.5,1.3 M515.50,11.35 l1.5,1.3" stroke-width="0.7"/>
</g>
<g stroke="#222" fill="none" stroke-width="1" stroke-dasharray="1.2 1.9">
<path d="M520.10,7.00 L654.10,57.30"/>
<path d="M654.10,57.30 L648.10,101.80"/>
<path d="M520.10,7.00 L521.10,50.00"/>
</g>
<text x="419.90" y="92.90" font-size="11.6" text-anchor="middle" >10</text>
<text x="425.50" y="123.00" font-size="11.6" text-anchor="middle" >5</text>
<text x="428.40" y="139.90" font-size="11.6" text-anchor="middle" >0</text>
<text x="434.20" y="149.80" font-size="11.6" text-anchor="middle" >0</text>
<text x="403.40" y="119.80" font-size="11.6" text-anchor="middle" >Rate</text>
<text x="402.90" y="132.60" font-size="11.6" text-anchor="middle" >(THz)</text>
<text x="453.20" y="58.80" font-size="11.6" text-anchor="middle" >100</text>
<text x="482.30" y="30.30" font-size="11.6" text-anchor="middle" >200</text>
<text x="476.20" y="173.90" font-size="11.6" text-anchor="middle" >100</text>
<text x="523.40" y="198.80" font-size="11.6" text-anchor="middle" >200</text>
<text x="652.20" y="112.60" font-size="11.6" text-anchor="middle" >0</text>
<text x="636.10" y="143.60" font-size="11.6" text-anchor="middle" >100</text>
<text x="607.60" y="184.50" font-size="11.6" text-anchor="middle" >200</text>
<text x="438.6" y="38.6" font-size="13" font-style="italic" style="stroke-width:0.05px" font-family="'Liberation Serif', 'DejaVu Serif', serif">ω<tspan font-size="8" dy="-5.0" dx="0.6" font-style="normal">+</tspan><tspan font-size="7.5" dx="-4.6" dy="8.6">λ′</tspan></text>
<text x="622.8" y="164.2" font-size="13" font-style="italic" style="stroke-width:0.05px" font-family="'Liberation Serif', 'DejaVu Serif', serif">ω<tspan font-size="8" dy="-5.4" dx="0.6" font-style="normal">−</tspan><tspan font-size="7.5" dx="-4.6" dy="9.0">λ′</tspan></text>
<text x="474.3" y="68.0" font-size="14" stroke="none" style="stroke:none" fill="#1a1a1a" font-family="'Liberation Serif', 'DejaVu Serif', serif">Γ<tspan font-size="9.5" dy="-6.2" dx="0.6">+</tspan></text>
<text x="573.7" y="49.8" font-size="14.4" stroke="none" style="stroke:none" fill="#1a1a1a" font-family="'Liberation Serif', 'DejaVu Serif', serif">Γ<tspan font-size="10.5" dy="-7.2" dx="-0.3" style="stroke:#1a1a1a;stroke-width:0.3px">−</tspan></text>
<text transform="translate(462.5,184.5) rotate(26.5)" font-size="11.2"><tspan font-style="italic" font-size="12" font-family="'Liberation Serif', 'DejaVu Serif', serif">ω</tspan><tspan font-size="7.5" dy="2.5" font-style="italic" font-family="'Liberation Serif', 'DejaVu Serif', serif">λ</tspan><tspan dy="-2.5"> (cm</tspan><tspan font-size="7.5" dy="-4.5">−1</tspan><tspan dy="4.5">)</tspan></text>
</g>
</svg>
</body>
</html>
